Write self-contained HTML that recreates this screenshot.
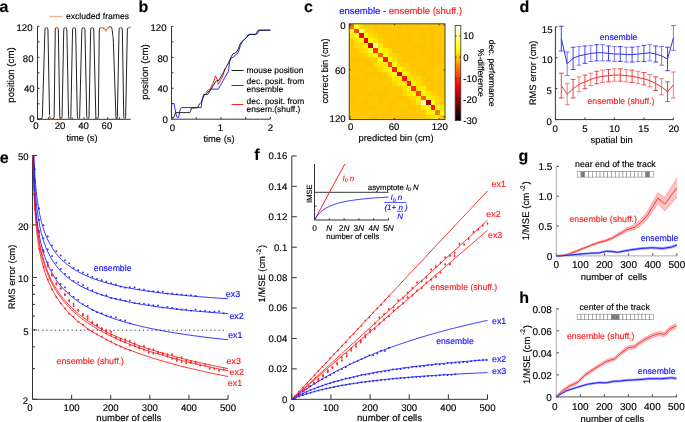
<!DOCTYPE html>
<html><head><meta charset="utf-8"><style>
html,body{margin:0;padding:0;background:#fff;width:685px;height:422px;overflow:hidden}
svg{display:block;will-change:transform}
text{font-family:"Liberation Sans",sans-serif;stroke:#000;stroke-width:0.15px;text-rendering:geometricPrecision}
[fill="#1010ff"],g[fill="#1010ff"] text{stroke:#1010ff}
[fill="#ff1a1a"]{stroke:#ff1a1a}
</style></head><body>
<svg width="685" height="422" viewBox="0 0 685 422">
<rect width="685" height="422" fill="#fff"/>
<g opacity="0.999">
<text x="-0.6" y="11.5" font-size="16" font-weight="bold">a</text>
<line x1="37.5" y1="119.3" x2="39.5" y2="119.3" stroke="#333" stroke-width="1" />
<line x1="37.5" y1="103.8" x2="39.5" y2="103.8" stroke="#333" stroke-width="1" />
<line x1="37.5" y1="88.3" x2="39.5" y2="88.3" stroke="#333" stroke-width="1" />
<line x1="37.5" y1="72.8" x2="39.5" y2="72.8" stroke="#333" stroke-width="1" />
<line x1="37.5" y1="57.3" x2="39.5" y2="57.3" stroke="#333" stroke-width="1" />
<line x1="37.5" y1="41.8" x2="39.5" y2="41.8" stroke="#333" stroke-width="1" />
<line x1="37.5" y1="26.3" x2="39.5" y2="26.3" stroke="#333" stroke-width="1" />
<text x="32.5" y="31.44" font-size="9.6" text-anchor="end" fill="#000" >120</text>
<text x="33.5" y="62.44" font-size="9.6" text-anchor="end" fill="#000" >80</text>
<text x="34.6" y="92.24" font-size="9.6" text-anchor="end" fill="#000" >40</text>
<text x="34.6" y="122.44" font-size="9.6" text-anchor="end" fill="#000" >0</text>
<line x1="48.45" y1="119.3" x2="48.45" y2="117.3" stroke="#333" stroke-width="1" />
<line x1="60.3" y1="119.3" x2="60.3" y2="117.3" stroke="#333" stroke-width="1" />
<line x1="72.15" y1="119.3" x2="72.15" y2="117.3" stroke="#333" stroke-width="1" />
<line x1="84" y1="119.3" x2="84" y2="117.3" stroke="#333" stroke-width="1" />
<line x1="95.85" y1="119.3" x2="95.85" y2="117.3" stroke="#333" stroke-width="1" />
<line x1="107.7" y1="119.3" x2="107.7" y2="117.3" stroke="#333" stroke-width="1" />
<line x1="119.55" y1="119.3" x2="119.55" y2="117.3" stroke="#333" stroke-width="1" />
<text x="35.9" y="129.44" font-size="9.6" text-anchor="middle" fill="#000" >0</text>
<text x="60" y="129.44" font-size="9.6" text-anchor="middle" fill="#000" >20</text>
<text x="83.6" y="129.44" font-size="9.6" text-anchor="middle" fill="#000" >40</text>
<text x="106.9" y="129.44" font-size="9.6" text-anchor="middle" fill="#000" >60</text>
<line x1="37.5" y1="26.3" x2="37.5" y2="119.3" stroke="#333" stroke-width="1" />
<line x1="37.5" y1="119.3" x2="130.6" y2="119.3" stroke="#333" stroke-width="1" />
<text transform="translate(10.3,75) rotate(-90)" x="0" y="3.39" font-size="9.7" text-anchor="middle" fill="#000" >position (cm)</text>
<text x="82" y="141.2" font-size="9.4" text-anchor="middle" fill="#000" >time (s)</text>
<line x1="49.2" y1="16.5" x2="62.2" y2="16.5" stroke="#ecb48c" stroke-width="1.3" />
<text x="66" y="19" font-size="8.6" text-anchor="start" fill="#000" >excluded frames</text>
<path d="M37.5,119 L39.9,119 Q42.3,119 42.37,116.6 L44.93,29.8 Q45,27.4 46.45,27.4 L46.45,27.4 Q47.9,27.4 47.94,29.8 L49.56,116.6 Q49.6,119 51.85,119 L51.85,119 Q54.1,119 54.13,116.6 L55.27,29.8 Q55.3,27.4 56.8,27.4 L56.8,27.4 Q58.3,27.4 58.34,29.8 L59.76,116.6 Q59.8,119 60.9,119 L60.9,119 Q62,119 62.05,116.6 L63.75,29.8 Q63.8,27.4 65.3,27.4 L65.3,27.4 Q66.8,27.4 66.85,29.8 L68.55,116.6 Q68.6,119 69.7,119 L69.7,119 Q70.8,119 70.85,116.6 L72.55,29.8 Q72.6,27.4 74.1,27.4 L74.1,27.4 Q75.6,27.4 75.65,29.8 L77.35,116.6 Q77.4,119 78.5,119 L78.5,119 Q79.6,119 79.66,116.6 L81.84,29.8 Q81.9,27.4 83.4,27.4 L83.4,27.4 Q84.9,27.4 84.95,29.8 L86.75,116.6 Q86.8,119 87.9,119 L87.9,119 Q89,119 89.04,116.6 L90.66,29.8 Q90.7,27.4 92.2,27.4 L92.2,27.4 Q93.7,27.4 93.76,29.8 L95.84,116.6 Q95.9,119 97.1,119 L97.1,119 Q98.3,119 98.33,116.6 L99.27,29.8 Q99.3,27.4 101.5,27.4 L101.5,27.4 Q103.7,27.4 104.7,29.4 L104.7,29.4 Q105.7,31.4 107.03,29.4 L107.57,28.6 Q108.9,26.6 110.3,26.6 L110.3,26.6 Q111.7,26.6 112.03,28.98 L112.27,30.62 Q112.6,33 112.84,35.39 L113.06,37.61 Q113.3,40 113.38,42.4 L115.92,116.6 Q116,119 116.65,119 L116.65,119 Q117.3,119 117.35,116.6 L119.05,29.8 Q119.1,27.4 120.7,27.4 L120.7,27.4 Q122.3,27.4 122.34,29.8 L123.76,116.6 Q123.8,119 124.7,119 L124.7,119 Q125.6,119 125.65,116.6 L127.35,29.8 Q127.4,27.4 129.2,27.4 L131,27.4" fill="none" stroke="#222" stroke-width="1"/>
<path d="M45.45,27.75 L47.45,27.75" stroke="#e8995a" stroke-width="1.2"/>
<path d="M55.8,27.75 L57.8,27.75" stroke="#e8995a" stroke-width="1.2"/>
<path d="M64.3,27.75 L66.3,27.75" stroke="#e8995a" stroke-width="1.2"/>
<path d="M73.1,27.75 L75.1,27.75" stroke="#e8995a" stroke-width="1.2"/>
<path d="M82.4,27.75 L84.4,27.75" stroke="#e8995a" stroke-width="1.2"/>
<path d="M91.2,27.75 L93.2,27.75" stroke="#e8995a" stroke-width="1.2"/>
<path d="M119.7,27.75 L121.7,27.75" stroke="#e8995a" stroke-width="1.2"/>
<line x1="60.2" y1="118.7" x2="61.6" y2="118.7" stroke="#e8995a" stroke-width="1.0" />
<line x1="69" y1="118.7" x2="70.4" y2="118.7" stroke="#e8995a" stroke-width="1.0" />
<line x1="77.8" y1="118.7" x2="79.2" y2="118.7" stroke="#e8995a" stroke-width="1.0" />
<line x1="87.2" y1="118.7" x2="88.6" y2="118.7" stroke="#e8995a" stroke-width="1.0" />
<line x1="96.3" y1="118.7" x2="97.7" y2="118.7" stroke="#e8995a" stroke-width="1.0" />
<line x1="124" y1="118.7" x2="125.4" y2="118.7" stroke="#e8995a" stroke-width="1.0" />
<polyline points="49.3,114.5 50.2,117.4 51.2,118.7 52.6,119" fill="none" stroke="#e8995a" stroke-width="1.1" stroke-linejoin="round" />
<path d="M99.8,27.7 L103.2,27.7 Q104.4,27.7 105.0,29.8 Q105.7,31.6 106.6,30.6 Q107.6,26.7 108.9,26.8 L110.4,26.8" fill="none" stroke="#e8995a" stroke-width="1.2"/>
<polyline points="127.8,27.7 131,27.7" fill="none" stroke="#e8995a" stroke-width="1.2" stroke-linejoin="round" />
<text x="138.6" y="11.5" font-size="16" font-weight="bold">b</text>
<line x1="171.5" y1="119.2" x2="173.5" y2="119.2" stroke="#333" stroke-width="1" />
<line x1="171.5" y1="103.73" x2="173.5" y2="103.73" stroke="#333" stroke-width="1" />
<line x1="171.5" y1="88.27" x2="173.5" y2="88.27" stroke="#333" stroke-width="1" />
<line x1="171.5" y1="72.8" x2="173.5" y2="72.8" stroke="#333" stroke-width="1" />
<line x1="171.5" y1="57.33" x2="173.5" y2="57.33" stroke="#333" stroke-width="1" />
<line x1="171.5" y1="41.87" x2="173.5" y2="41.87" stroke="#333" stroke-width="1" />
<line x1="171.5" y1="26.4" x2="173.5" y2="26.4" stroke="#333" stroke-width="1" />
<text x="166.5" y="30.94" font-size="9.6" text-anchor="end" fill="#000" >120</text>
<text x="168.1" y="62.44" font-size="9.6" text-anchor="end" fill="#000" >80</text>
<text x="168.1" y="92.24" font-size="9.6" text-anchor="end" fill="#000" >40</text>
<text x="167.9" y="122.74" font-size="9.6" text-anchor="end" fill="#000" >0</text>
<line x1="171.5" y1="119.2" x2="171.5" y2="117.2" stroke="#333" stroke-width="1" />
<line x1="196.22" y1="119.2" x2="196.22" y2="117.2" stroke="#333" stroke-width="1" />
<line x1="220.95" y1="119.2" x2="220.95" y2="117.2" stroke="#333" stroke-width="1" />
<line x1="245.68" y1="119.2" x2="245.68" y2="117.2" stroke="#333" stroke-width="1" />
<line x1="270.4" y1="119.2" x2="270.4" y2="117.2" stroke="#333" stroke-width="1" />
<text x="172.3" y="131.44" font-size="9.6" text-anchor="middle" fill="#000" >0</text>
<text x="220.4" y="131.44" font-size="9.6" text-anchor="middle" fill="#000" >1</text>
<text x="270.4" y="131.44" font-size="9.6" text-anchor="middle" fill="#000" >2</text>
<line x1="171.5" y1="26.4" x2="171.5" y2="119.2" stroke="#333" stroke-width="1" />
<line x1="171.5" y1="119.2" x2="270.4" y2="119.2" stroke="#333" stroke-width="1" />
<text transform="translate(144.5,72) rotate(-90)" x="0" y="3.39" font-size="9.7" text-anchor="middle" fill="#000" >position (cm)</text>
<text x="219" y="142" font-size="9.4" text-anchor="middle" fill="#000" >time (s)</text>
<polyline points="171.6,103.4 174,103.4 176.2,115 177.3,117.6 178.6,117.4 180,110 181.4,107.6 201.1,107.6 202.4,98.5 203.6,94.4 205.3,94.4 211.2,89.1 218.3,89.1 228.4,71.3 229.6,61.8 231.4,57.7 233.7,57.1 235.5,54.7 237.9,53 240.5,45.5 242.4,41.4 244.6,38.9 246.4,37.6 248.2,34.4 255.8,34.4 257.3,33.8 259.6,30.2 270.4,30.2" fill="none" stroke="#2828ff" stroke-width="1.0" stroke-linejoin="round" />
<polyline points="205.9,92.6 208.3,89.6 210.1,89.1 213.6,82 215.4,75.8 217.2,79.6 218.3,84.3 220.7,79.6 223.1,75.4 224.9,68.3" fill="none" stroke="#ff2020" stroke-width="1.0" stroke-linejoin="round" />
<polyline points="172,117.7 173.8,117.5 175.6,112.6 189.9,112.6 191.6,108 197.4,107.8 199.6,104 201,102.5 204.7,94.4 207.7,94.4 211.2,89.1 215.4,82 217.2,80.2 218.3,80.8 220.7,77.2 223.7,71.9 228.4,63 231.4,56.5 233.1,53.6 235.5,53 237.9,50 239.7,44.9 241.5,42 243.5,40.6 247.1,37 249.6,34.4 255.6,34.4 258,30.2 270.4,30.2" fill="none" stroke="#111" stroke-width="0.9" stroke-linejoin="round" />
<line x1="231.5" y1="70.5" x2="243.5" y2="70.5" stroke="#222" stroke-width="1.0" />
<line x1="231.5" y1="85.5" x2="243.5" y2="85.5" stroke="#2828ff" stroke-width="1.0" />
<line x1="231.5" y1="104.5" x2="243.5" y2="104.5" stroke="#ff2020" stroke-width="1.0" />
<text x="246.6" y="72.8" font-size="8.45" text-anchor="start" fill="#000" >mouse position</text>
<text x="246.6" y="84.3" font-size="8.45" text-anchor="start" fill="#000" >dec. posit. from</text>
<text x="246.6" y="92.4" font-size="8.45" text-anchor="start" fill="#000" >ensemble</text>
<text x="246.6" y="103.5" font-size="8.45" text-anchor="start" fill="#000" >dec. posit. from</text>
<text x="246.6" y="111.8" font-size="8.45" text-anchor="start" fill="#000" >ensem.(shuff.)</text>
<text x="304.0" y="11.6" font-size="16" font-weight="bold">c</text>
<g shape-rendering="crispEdges">
<rect x="349.2" y="23.8" width="4.84" height="4.84" fill="#ff6b00"/>
<rect x="353.99" y="23.8" width="4.84" height="4.84" fill="#ffff1c"/>
<rect x="358.78" y="23.8" width="4.84" height="4.84" fill="#ffde00"/>
<rect x="363.57" y="23.8" width="4.84" height="4.84" fill="#ffcb00"/>
<rect x="368.36" y="23.8" width="4.84" height="4.84" fill="#ffc800"/>
<rect x="373.15" y="23.8" width="4.84" height="4.84" fill="#ffc300"/>
<rect x="377.94" y="23.8" width="4.84" height="4.84" fill="#ffc700"/>
<rect x="382.73" y="23.8" width="4.84" height="4.84" fill="#ffc600"/>
<rect x="387.52" y="23.8" width="4.84" height="4.84" fill="#ffc300"/>
<rect x="392.31" y="23.8" width="4.84" height="4.84" fill="#ffc700"/>
<rect x="397.1" y="23.8" width="4.84" height="4.84" fill="#ffc300"/>
<rect x="401.89" y="23.8" width="4.84" height="4.84" fill="#ffc600"/>
<rect x="406.68" y="23.8" width="4.84" height="4.84" fill="#ffc300"/>
<rect x="411.47" y="23.8" width="4.84" height="4.84" fill="#ffc300"/>
<rect x="416.26" y="23.8" width="4.84" height="4.84" fill="#ffc600"/>
<rect x="421.05" y="23.8" width="4.84" height="4.84" fill="#ffc900"/>
<rect x="425.84" y="23.8" width="4.84" height="4.84" fill="#ffc400"/>
<rect x="430.63" y="23.8" width="4.84" height="4.84" fill="#ffc400"/>
<rect x="435.42" y="23.8" width="4.84" height="4.84" fill="#ffc800"/>
<rect x="440.21" y="23.8" width="4.84" height="4.84" fill="#ffca00"/>
<rect x="349.2" y="28.59" width="4.84" height="4.84" fill="#ffff09"/>
<rect x="353.99" y="28.59" width="4.84" height="4.84" fill="#ff3e00"/>
<rect x="358.78" y="28.59" width="4.84" height="4.84" fill="#ffff77"/>
<rect x="363.57" y="28.59" width="4.84" height="4.84" fill="#ffe000"/>
<rect x="368.36" y="28.59" width="4.84" height="4.84" fill="#ffd800"/>
<rect x="373.15" y="28.59" width="4.84" height="4.84" fill="#ffc300"/>
<rect x="377.94" y="28.59" width="4.84" height="4.84" fill="#ffc900"/>
<rect x="382.73" y="28.59" width="4.84" height="4.84" fill="#ffc500"/>
<rect x="387.52" y="28.59" width="4.84" height="4.84" fill="#ffc400"/>
<rect x="392.31" y="28.59" width="4.84" height="4.84" fill="#ffc400"/>
<rect x="397.1" y="28.59" width="4.84" height="4.84" fill="#ffc500"/>
<rect x="401.89" y="28.59" width="4.84" height="4.84" fill="#ffc900"/>
<rect x="406.68" y="28.59" width="4.84" height="4.84" fill="#ffc400"/>
<rect x="411.47" y="28.59" width="4.84" height="4.84" fill="#ffc700"/>
<rect x="416.26" y="28.59" width="4.84" height="4.84" fill="#ffc800"/>
<rect x="421.05" y="28.59" width="4.84" height="4.84" fill="#ffc600"/>
<rect x="425.84" y="28.59" width="4.84" height="4.84" fill="#ffc700"/>
<rect x="430.63" y="28.59" width="4.84" height="4.84" fill="#ffc300"/>
<rect x="435.42" y="28.59" width="4.84" height="4.84" fill="#ffc300"/>
<rect x="440.21" y="28.59" width="4.84" height="4.84" fill="#ffc400"/>
<rect x="349.2" y="33.38" width="4.84" height="4.84" fill="#ffe700"/>
<rect x="353.99" y="33.38" width="4.84" height="4.84" fill="#ffff1c"/>
<rect x="358.78" y="33.38" width="4.84" height="4.84" fill="#ff0100"/>
<rect x="363.57" y="33.38" width="4.84" height="4.84" fill="#ffff02"/>
<rect x="368.36" y="33.38" width="4.84" height="4.84" fill="#ffdd00"/>
<rect x="373.15" y="33.38" width="4.84" height="4.84" fill="#ffd200"/>
<rect x="377.94" y="33.38" width="4.84" height="4.84" fill="#ffc600"/>
<rect x="382.73" y="33.38" width="4.84" height="4.84" fill="#ffc500"/>
<rect x="387.52" y="33.38" width="4.84" height="4.84" fill="#ffc900"/>
<rect x="392.31" y="33.38" width="4.84" height="4.84" fill="#ffc800"/>
<rect x="397.1" y="33.38" width="4.84" height="4.84" fill="#ffc500"/>
<rect x="401.89" y="33.38" width="4.84" height="4.84" fill="#ffc700"/>
<rect x="406.68" y="33.38" width="4.84" height="4.84" fill="#ffc700"/>
<rect x="411.47" y="33.38" width="4.84" height="4.84" fill="#ffc900"/>
<rect x="416.26" y="33.38" width="4.84" height="4.84" fill="#ffc800"/>
<rect x="421.05" y="33.38" width="4.84" height="4.84" fill="#ffc500"/>
<rect x="425.84" y="33.38" width="4.84" height="4.84" fill="#ffca00"/>
<rect x="430.63" y="33.38" width="4.84" height="4.84" fill="#ffc400"/>
<rect x="435.42" y="33.38" width="4.84" height="4.84" fill="#ffc600"/>
<rect x="440.21" y="33.38" width="4.84" height="4.84" fill="#ffc900"/>
<rect x="349.2" y="38.17" width="4.84" height="4.84" fill="#ffcb00"/>
<rect x="353.99" y="38.17" width="4.84" height="4.84" fill="#ffe200"/>
<rect x="358.78" y="38.17" width="4.84" height="4.84" fill="#fff400"/>
<rect x="363.57" y="38.17" width="4.84" height="4.84" fill="#e20000"/>
<rect x="368.36" y="38.17" width="4.84" height="4.84" fill="#fff800"/>
<rect x="373.15" y="38.17" width="4.84" height="4.84" fill="#ffea00"/>
<rect x="377.94" y="38.17" width="4.84" height="4.84" fill="#ffd200"/>
<rect x="382.73" y="38.17" width="4.84" height="4.84" fill="#ffc900"/>
<rect x="387.52" y="38.17" width="4.84" height="4.84" fill="#ffc500"/>
<rect x="392.31" y="38.17" width="4.84" height="4.84" fill="#ffc800"/>
<rect x="397.1" y="38.17" width="4.84" height="4.84" fill="#ffc700"/>
<rect x="401.89" y="38.17" width="4.84" height="4.84" fill="#ffc700"/>
<rect x="406.68" y="38.17" width="4.84" height="4.84" fill="#ffc600"/>
<rect x="411.47" y="38.17" width="4.84" height="4.84" fill="#ffc900"/>
<rect x="416.26" y="38.17" width="4.84" height="4.84" fill="#ffca00"/>
<rect x="421.05" y="38.17" width="4.84" height="4.84" fill="#ffc600"/>
<rect x="425.84" y="38.17" width="4.84" height="4.84" fill="#ffc800"/>
<rect x="430.63" y="38.17" width="4.84" height="4.84" fill="#ffc300"/>
<rect x="435.42" y="38.17" width="4.84" height="4.84" fill="#ffc800"/>
<rect x="440.21" y="38.17" width="4.84" height="4.84" fill="#ffc800"/>
<rect x="349.2" y="42.96" width="4.84" height="4.84" fill="#ffca00"/>
<rect x="353.99" y="42.96" width="4.84" height="4.84" fill="#ffd500"/>
<rect x="358.78" y="42.96" width="4.84" height="4.84" fill="#ffdd00"/>
<rect x="363.57" y="42.96" width="4.84" height="4.84" fill="#fff000"/>
<rect x="368.36" y="42.96" width="4.84" height="4.84" fill="#c40000"/>
<rect x="373.15" y="42.96" width="4.84" height="4.84" fill="#ffff8d"/>
<rect x="377.94" y="42.96" width="4.84" height="4.84" fill="#ffe700"/>
<rect x="382.73" y="42.96" width="4.84" height="4.84" fill="#ffc900"/>
<rect x="387.52" y="42.96" width="4.84" height="4.84" fill="#ffc600"/>
<rect x="392.31" y="42.96" width="4.84" height="4.84" fill="#ffc400"/>
<rect x="397.1" y="42.96" width="4.84" height="4.84" fill="#ffc400"/>
<rect x="401.89" y="42.96" width="4.84" height="4.84" fill="#ffc300"/>
<rect x="406.68" y="42.96" width="4.84" height="4.84" fill="#ffc900"/>
<rect x="411.47" y="42.96" width="4.84" height="4.84" fill="#ffc400"/>
<rect x="416.26" y="42.96" width="4.84" height="4.84" fill="#ffc500"/>
<rect x="421.05" y="42.96" width="4.84" height="4.84" fill="#ffc600"/>
<rect x="425.84" y="42.96" width="4.84" height="4.84" fill="#ffc900"/>
<rect x="430.63" y="42.96" width="4.84" height="4.84" fill="#ffc300"/>
<rect x="435.42" y="42.96" width="4.84" height="4.84" fill="#ffc600"/>
<rect x="440.21" y="42.96" width="4.84" height="4.84" fill="#ffc700"/>
<rect x="349.2" y="47.75" width="4.84" height="4.84" fill="#ffc900"/>
<rect x="353.99" y="47.75" width="4.84" height="4.84" fill="#ffc900"/>
<rect x="358.78" y="47.75" width="4.84" height="4.84" fill="#ffd600"/>
<rect x="363.57" y="47.75" width="4.84" height="4.84" fill="#ffdd00"/>
<rect x="368.36" y="47.75" width="4.84" height="4.84" fill="#ffff18"/>
<rect x="373.15" y="47.75" width="4.84" height="4.84" fill="#ff2f00"/>
<rect x="377.94" y="47.75" width="4.84" height="4.84" fill="#fffe00"/>
<rect x="382.73" y="47.75" width="4.84" height="4.84" fill="#ffed00"/>
<rect x="387.52" y="47.75" width="4.84" height="4.84" fill="#ffd700"/>
<rect x="392.31" y="47.75" width="4.84" height="4.84" fill="#ffc400"/>
<rect x="397.1" y="47.75" width="4.84" height="4.84" fill="#ffc400"/>
<rect x="401.89" y="47.75" width="4.84" height="4.84" fill="#ffc500"/>
<rect x="406.68" y="47.75" width="4.84" height="4.84" fill="#ffc500"/>
<rect x="411.47" y="47.75" width="4.84" height="4.84" fill="#ffc600"/>
<rect x="416.26" y="47.75" width="4.84" height="4.84" fill="#ffc700"/>
<rect x="421.05" y="47.75" width="4.84" height="4.84" fill="#ffc500"/>
<rect x="425.84" y="47.75" width="4.84" height="4.84" fill="#ffc300"/>
<rect x="430.63" y="47.75" width="4.84" height="4.84" fill="#ffc600"/>
<rect x="435.42" y="47.75" width="4.84" height="4.84" fill="#ffc600"/>
<rect x="440.21" y="47.75" width="4.84" height="4.84" fill="#ffc700"/>
<rect x="349.2" y="52.54" width="4.84" height="4.84" fill="#ffca00"/>
<rect x="353.99" y="52.54" width="4.84" height="4.84" fill="#ffc800"/>
<rect x="358.78" y="52.54" width="4.84" height="4.84" fill="#ffc700"/>
<rect x="363.57" y="52.54" width="4.84" height="4.84" fill="#ffd200"/>
<rect x="368.36" y="52.54" width="4.84" height="4.84" fill="#ffe700"/>
<rect x="373.15" y="52.54" width="4.84" height="4.84" fill="#fff500"/>
<rect x="377.94" y="52.54" width="4.84" height="4.84" fill="#ff5c00"/>
<rect x="382.73" y="52.54" width="4.84" height="4.84" fill="#ffff01"/>
<rect x="387.52" y="52.54" width="4.84" height="4.84" fill="#ffea00"/>
<rect x="392.31" y="52.54" width="4.84" height="4.84" fill="#ffd600"/>
<rect x="397.1" y="52.54" width="4.84" height="4.84" fill="#ffc900"/>
<rect x="401.89" y="52.54" width="4.84" height="4.84" fill="#ffc600"/>
<rect x="406.68" y="52.54" width="4.84" height="4.84" fill="#ffc600"/>
<rect x="411.47" y="52.54" width="4.84" height="4.84" fill="#ffc400"/>
<rect x="416.26" y="52.54" width="4.84" height="4.84" fill="#ffc800"/>
<rect x="421.05" y="52.54" width="4.84" height="4.84" fill="#ffc300"/>
<rect x="425.84" y="52.54" width="4.84" height="4.84" fill="#ffc300"/>
<rect x="430.63" y="52.54" width="4.84" height="4.84" fill="#ffc400"/>
<rect x="435.42" y="52.54" width="4.84" height="4.84" fill="#ffc400"/>
<rect x="440.21" y="52.54" width="4.84" height="4.84" fill="#ffc500"/>
<rect x="349.2" y="57.33" width="4.84" height="4.84" fill="#ffc300"/>
<rect x="353.99" y="57.33" width="4.84" height="4.84" fill="#ffc300"/>
<rect x="358.78" y="57.33" width="4.84" height="4.84" fill="#ffc400"/>
<rect x="363.57" y="57.33" width="4.84" height="4.84" fill="#ffc400"/>
<rect x="368.36" y="57.33" width="4.84" height="4.84" fill="#ffce00"/>
<rect x="373.15" y="57.33" width="4.84" height="4.84" fill="#ffd600"/>
<rect x="377.94" y="57.33" width="4.84" height="4.84" fill="#fffe00"/>
<rect x="382.73" y="57.33" width="4.84" height="4.84" fill="#ff1100"/>
<rect x="387.52" y="57.33" width="4.84" height="4.84" fill="#fff700"/>
<rect x="392.31" y="57.33" width="4.84" height="4.84" fill="#ffd900"/>
<rect x="397.1" y="57.33" width="4.84" height="4.84" fill="#ffcd00"/>
<rect x="401.89" y="57.33" width="4.84" height="4.84" fill="#ffc500"/>
<rect x="406.68" y="57.33" width="4.84" height="4.84" fill="#ffc600"/>
<rect x="411.47" y="57.33" width="4.84" height="4.84" fill="#ffc400"/>
<rect x="416.26" y="57.33" width="4.84" height="4.84" fill="#ffc900"/>
<rect x="421.05" y="57.33" width="4.84" height="4.84" fill="#ffca00"/>
<rect x="425.84" y="57.33" width="4.84" height="4.84" fill="#ffc600"/>
<rect x="430.63" y="57.33" width="4.84" height="4.84" fill="#ffc600"/>
<rect x="435.42" y="57.33" width="4.84" height="4.84" fill="#ffc300"/>
<rect x="440.21" y="57.33" width="4.84" height="4.84" fill="#ffc400"/>
<rect x="349.2" y="62.12" width="4.84" height="4.84" fill="#ffc500"/>
<rect x="353.99" y="62.12" width="4.84" height="4.84" fill="#ffc500"/>
<rect x="358.78" y="62.12" width="4.84" height="4.84" fill="#ffc900"/>
<rect x="363.57" y="62.12" width="4.84" height="4.84" fill="#ffc400"/>
<rect x="368.36" y="62.12" width="4.84" height="4.84" fill="#ffc300"/>
<rect x="373.15" y="62.12" width="4.84" height="4.84" fill="#ffd700"/>
<rect x="377.94" y="62.12" width="4.84" height="4.84" fill="#ffe300"/>
<rect x="382.73" y="62.12" width="4.84" height="4.84" fill="#ffe800"/>
<rect x="387.52" y="62.12" width="4.84" height="4.84" fill="#ff3e00"/>
<rect x="392.31" y="62.12" width="4.84" height="4.84" fill="#ffff07"/>
<rect x="397.1" y="62.12" width="4.84" height="4.84" fill="#ffd600"/>
<rect x="401.89" y="62.12" width="4.84" height="4.84" fill="#ffd100"/>
<rect x="406.68" y="62.12" width="4.84" height="4.84" fill="#ffca00"/>
<rect x="411.47" y="62.12" width="4.84" height="4.84" fill="#ffc900"/>
<rect x="416.26" y="62.12" width="4.84" height="4.84" fill="#ffc800"/>
<rect x="421.05" y="62.12" width="4.84" height="4.84" fill="#ffc500"/>
<rect x="425.84" y="62.12" width="4.84" height="4.84" fill="#ffc600"/>
<rect x="430.63" y="62.12" width="4.84" height="4.84" fill="#ffc400"/>
<rect x="435.42" y="62.12" width="4.84" height="4.84" fill="#ffc900"/>
<rect x="440.21" y="62.12" width="4.84" height="4.84" fill="#ffc700"/>
<rect x="349.2" y="66.91" width="4.84" height="4.84" fill="#ffc900"/>
<rect x="353.99" y="66.91" width="4.84" height="4.84" fill="#ffc500"/>
<rect x="358.78" y="66.91" width="4.84" height="4.84" fill="#ffc400"/>
<rect x="363.57" y="66.91" width="4.84" height="4.84" fill="#ffc900"/>
<rect x="368.36" y="66.91" width="4.84" height="4.84" fill="#ffca00"/>
<rect x="373.15" y="66.91" width="4.84" height="4.84" fill="#ffc900"/>
<rect x="377.94" y="66.91" width="4.84" height="4.84" fill="#ffd500"/>
<rect x="382.73" y="66.91" width="4.84" height="4.84" fill="#ffeb00"/>
<rect x="387.52" y="66.91" width="4.84" height="4.84" fill="#ffff10"/>
<rect x="392.31" y="66.91" width="4.84" height="4.84" fill="#ff2000"/>
<rect x="397.1" y="66.91" width="4.84" height="4.84" fill="#fffa00"/>
<rect x="401.89" y="66.91" width="4.84" height="4.84" fill="#ffe300"/>
<rect x="406.68" y="66.91" width="4.84" height="4.84" fill="#ffce00"/>
<rect x="411.47" y="66.91" width="4.84" height="4.84" fill="#ffc300"/>
<rect x="416.26" y="66.91" width="4.84" height="4.84" fill="#ffc300"/>
<rect x="421.05" y="66.91" width="4.84" height="4.84" fill="#ffc500"/>
<rect x="425.84" y="66.91" width="4.84" height="4.84" fill="#ffc500"/>
<rect x="430.63" y="66.91" width="4.84" height="4.84" fill="#ffc800"/>
<rect x="435.42" y="66.91" width="4.84" height="4.84" fill="#ffca00"/>
<rect x="440.21" y="66.91" width="4.84" height="4.84" fill="#ffc600"/>
<rect x="349.2" y="71.7" width="4.84" height="4.84" fill="#ffca00"/>
<rect x="353.99" y="71.7" width="4.84" height="4.84" fill="#ffca00"/>
<rect x="358.78" y="71.7" width="4.84" height="4.84" fill="#ffca00"/>
<rect x="363.57" y="71.7" width="4.84" height="4.84" fill="#ffc600"/>
<rect x="368.36" y="71.7" width="4.84" height="4.84" fill="#ffc400"/>
<rect x="373.15" y="71.7" width="4.84" height="4.84" fill="#ffc500"/>
<rect x="377.94" y="71.7" width="4.84" height="4.84" fill="#ffc400"/>
<rect x="382.73" y="71.7" width="4.84" height="4.84" fill="#ffcc00"/>
<rect x="387.52" y="71.7" width="4.84" height="4.84" fill="#ffe600"/>
<rect x="392.31" y="71.7" width="4.84" height="4.84" fill="#ffff17"/>
<rect x="397.1" y="71.7" width="4.84" height="4.84" fill="#e20000"/>
<rect x="401.89" y="71.7" width="4.84" height="4.84" fill="#fffd00"/>
<rect x="406.68" y="71.7" width="4.84" height="4.84" fill="#ffe200"/>
<rect x="411.47" y="71.7" width="4.84" height="4.84" fill="#ffd300"/>
<rect x="416.26" y="71.7" width="4.84" height="4.84" fill="#ffc900"/>
<rect x="421.05" y="71.7" width="4.84" height="4.84" fill="#ffc300"/>
<rect x="425.84" y="71.7" width="4.84" height="4.84" fill="#ffc800"/>
<rect x="430.63" y="71.7" width="4.84" height="4.84" fill="#ffca00"/>
<rect x="435.42" y="71.7" width="4.84" height="4.84" fill="#ffc900"/>
<rect x="440.21" y="71.7" width="4.84" height="4.84" fill="#ffc800"/>
<rect x="349.2" y="76.49" width="4.84" height="4.84" fill="#ffc600"/>
<rect x="353.99" y="76.49" width="4.84" height="4.84" fill="#ffc400"/>
<rect x="358.78" y="76.49" width="4.84" height="4.84" fill="#ffc900"/>
<rect x="363.57" y="76.49" width="4.84" height="4.84" fill="#ffc500"/>
<rect x="368.36" y="76.49" width="4.84" height="4.84" fill="#ffc900"/>
<rect x="373.15" y="76.49" width="4.84" height="4.84" fill="#ffca00"/>
<rect x="377.94" y="76.49" width="4.84" height="4.84" fill="#ffc600"/>
<rect x="382.73" y="76.49" width="4.84" height="4.84" fill="#ffc600"/>
<rect x="387.52" y="76.49" width="4.84" height="4.84" fill="#ffd700"/>
<rect x="392.31" y="76.49" width="4.84" height="4.84" fill="#ffe900"/>
<rect x="397.1" y="76.49" width="4.84" height="4.84" fill="#ffe900"/>
<rect x="401.89" y="76.49" width="4.84" height="4.84" fill="#ff1100"/>
<rect x="406.68" y="76.49" width="4.84" height="4.84" fill="#ffe800"/>
<rect x="411.47" y="76.49" width="4.84" height="4.84" fill="#ffd900"/>
<rect x="416.26" y="76.49" width="4.84" height="4.84" fill="#ffd700"/>
<rect x="421.05" y="76.49" width="4.84" height="4.84" fill="#ffc900"/>
<rect x="425.84" y="76.49" width="4.84" height="4.84" fill="#ffc400"/>
<rect x="430.63" y="76.49" width="4.84" height="4.84" fill="#ffc900"/>
<rect x="435.42" y="76.49" width="4.84" height="4.84" fill="#ffca00"/>
<rect x="440.21" y="76.49" width="4.84" height="4.84" fill="#ffc800"/>
<rect x="349.2" y="81.28" width="4.84" height="4.84" fill="#ffc500"/>
<rect x="353.99" y="81.28" width="4.84" height="4.84" fill="#ffc700"/>
<rect x="358.78" y="81.28" width="4.84" height="4.84" fill="#ffc400"/>
<rect x="363.57" y="81.28" width="4.84" height="4.84" fill="#ffc300"/>
<rect x="368.36" y="81.28" width="4.84" height="4.84" fill="#ffca00"/>
<rect x="373.15" y="81.28" width="4.84" height="4.84" fill="#ffc800"/>
<rect x="377.94" y="81.28" width="4.84" height="4.84" fill="#ffc700"/>
<rect x="382.73" y="81.28" width="4.84" height="4.84" fill="#ffca00"/>
<rect x="387.52" y="81.28" width="4.84" height="4.84" fill="#ffc600"/>
<rect x="392.31" y="81.28" width="4.84" height="4.84" fill="#ffd600"/>
<rect x="397.1" y="81.28" width="4.84" height="4.84" fill="#ffeb00"/>
<rect x="401.89" y="81.28" width="4.84" height="4.84" fill="#ffea00"/>
<rect x="406.68" y="81.28" width="4.84" height="4.84" fill="#ff1100"/>
<rect x="411.47" y="81.28" width="4.84" height="4.84" fill="#fffb00"/>
<rect x="416.26" y="81.28" width="4.84" height="4.84" fill="#ffdd00"/>
<rect x="421.05" y="81.28" width="4.84" height="4.84" fill="#ffcc00"/>
<rect x="425.84" y="81.28" width="4.84" height="4.84" fill="#ffc700"/>
<rect x="430.63" y="81.28" width="4.84" height="4.84" fill="#ffc500"/>
<rect x="435.42" y="81.28" width="4.84" height="4.84" fill="#ffc600"/>
<rect x="440.21" y="81.28" width="4.84" height="4.84" fill="#ffc400"/>
<rect x="349.2" y="86.07" width="4.84" height="4.84" fill="#ffca00"/>
<rect x="353.99" y="86.07" width="4.84" height="4.84" fill="#ffc500"/>
<rect x="358.78" y="86.07" width="4.84" height="4.84" fill="#ffc600"/>
<rect x="363.57" y="86.07" width="4.84" height="4.84" fill="#ffc700"/>
<rect x="368.36" y="86.07" width="4.84" height="4.84" fill="#ffca00"/>
<rect x="373.15" y="86.07" width="4.84" height="4.84" fill="#ffc600"/>
<rect x="377.94" y="86.07" width="4.84" height="4.84" fill="#ffca00"/>
<rect x="382.73" y="86.07" width="4.84" height="4.84" fill="#ffc700"/>
<rect x="387.52" y="86.07" width="4.84" height="4.84" fill="#ffc700"/>
<rect x="392.31" y="86.07" width="4.84" height="4.84" fill="#ffc700"/>
<rect x="397.1" y="86.07" width="4.84" height="4.84" fill="#ffc900"/>
<rect x="401.89" y="86.07" width="4.84" height="4.84" fill="#ffe100"/>
<rect x="406.68" y="86.07" width="4.84" height="4.84" fill="#fff900"/>
<rect x="411.47" y="86.07" width="4.84" height="4.84" fill="#ff2f00"/>
<rect x="416.26" y="86.07" width="4.84" height="4.84" fill="#ffe400"/>
<rect x="421.05" y="86.07" width="4.84" height="4.84" fill="#ffeb00"/>
<rect x="425.84" y="86.07" width="4.84" height="4.84" fill="#ffcb00"/>
<rect x="430.63" y="86.07" width="4.84" height="4.84" fill="#ffc600"/>
<rect x="435.42" y="86.07" width="4.84" height="4.84" fill="#ffc800"/>
<rect x="440.21" y="86.07" width="4.84" height="4.84" fill="#ffc700"/>
<rect x="349.2" y="90.86" width="4.84" height="4.84" fill="#ffc500"/>
<rect x="353.99" y="90.86" width="4.84" height="4.84" fill="#ffc700"/>
<rect x="358.78" y="90.86" width="4.84" height="4.84" fill="#ffc700"/>
<rect x="363.57" y="90.86" width="4.84" height="4.84" fill="#ffc900"/>
<rect x="368.36" y="90.86" width="4.84" height="4.84" fill="#ffc400"/>
<rect x="373.15" y="90.86" width="4.84" height="4.84" fill="#ffc700"/>
<rect x="377.94" y="90.86" width="4.84" height="4.84" fill="#ffc500"/>
<rect x="382.73" y="90.86" width="4.84" height="4.84" fill="#ffc500"/>
<rect x="387.52" y="90.86" width="4.84" height="4.84" fill="#ffc900"/>
<rect x="392.31" y="90.86" width="4.84" height="4.84" fill="#ffc700"/>
<rect x="397.1" y="90.86" width="4.84" height="4.84" fill="#ffc700"/>
<rect x="401.89" y="90.86" width="4.84" height="4.84" fill="#ffd400"/>
<rect x="406.68" y="90.86" width="4.84" height="4.84" fill="#ffee00"/>
<rect x="411.47" y="90.86" width="4.84" height="4.84" fill="#fff100"/>
<rect x="416.26" y="90.86" width="4.84" height="4.84" fill="#ff3e00"/>
<rect x="421.05" y="90.86" width="4.84" height="4.84" fill="#fff700"/>
<rect x="425.84" y="90.86" width="4.84" height="4.84" fill="#ffe300"/>
<rect x="430.63" y="90.86" width="4.84" height="4.84" fill="#ffd100"/>
<rect x="435.42" y="90.86" width="4.84" height="4.84" fill="#ffc800"/>
<rect x="440.21" y="90.86" width="4.84" height="4.84" fill="#ffc600"/>
<rect x="349.2" y="95.65" width="4.84" height="4.84" fill="#ffc700"/>
<rect x="353.99" y="95.65" width="4.84" height="4.84" fill="#ffc600"/>
<rect x="358.78" y="95.65" width="4.84" height="4.84" fill="#ffca00"/>
<rect x="363.57" y="95.65" width="4.84" height="4.84" fill="#ffc800"/>
<rect x="368.36" y="95.65" width="4.84" height="4.84" fill="#ffc900"/>
<rect x="373.15" y="95.65" width="4.84" height="4.84" fill="#ffca00"/>
<rect x="377.94" y="95.65" width="4.84" height="4.84" fill="#ffc500"/>
<rect x="382.73" y="95.65" width="4.84" height="4.84" fill="#ffc700"/>
<rect x="387.52" y="95.65" width="4.84" height="4.84" fill="#ffca00"/>
<rect x="392.31" y="95.65" width="4.84" height="4.84" fill="#ffc900"/>
<rect x="397.1" y="95.65" width="4.84" height="4.84" fill="#ffc400"/>
<rect x="401.89" y="95.65" width="4.84" height="4.84" fill="#ffc400"/>
<rect x="406.68" y="95.65" width="4.84" height="4.84" fill="#ffd000"/>
<rect x="411.47" y="95.65" width="4.84" height="4.84" fill="#ffd700"/>
<rect x="416.26" y="95.65" width="4.84" height="4.84" fill="#ffeb00"/>
<rect x="421.05" y="95.65" width="4.84" height="4.84" fill="#ff5c00"/>
<rect x="425.84" y="95.65" width="4.84" height="4.84" fill="#fff500"/>
<rect x="430.63" y="95.65" width="4.84" height="4.84" fill="#ffe700"/>
<rect x="435.42" y="95.65" width="4.84" height="4.84" fill="#ffd500"/>
<rect x="440.21" y="95.65" width="4.84" height="4.84" fill="#ffca00"/>
<rect x="349.2" y="100.44" width="4.84" height="4.84" fill="#ffc400"/>
<rect x="353.99" y="100.44" width="4.84" height="4.84" fill="#ffc800"/>
<rect x="358.78" y="100.44" width="4.84" height="4.84" fill="#ffc800"/>
<rect x="363.57" y="100.44" width="4.84" height="4.84" fill="#ffc400"/>
<rect x="368.36" y="100.44" width="4.84" height="4.84" fill="#ffc900"/>
<rect x="373.15" y="100.44" width="4.84" height="4.84" fill="#ffca00"/>
<rect x="377.94" y="100.44" width="4.84" height="4.84" fill="#ffc400"/>
<rect x="382.73" y="100.44" width="4.84" height="4.84" fill="#ffca00"/>
<rect x="387.52" y="100.44" width="4.84" height="4.84" fill="#ffc600"/>
<rect x="392.31" y="100.44" width="4.84" height="4.84" fill="#ffc600"/>
<rect x="397.1" y="100.44" width="4.84" height="4.84" fill="#ffca00"/>
<rect x="401.89" y="100.44" width="4.84" height="4.84" fill="#ffc900"/>
<rect x="406.68" y="100.44" width="4.84" height="4.84" fill="#ffc400"/>
<rect x="411.47" y="100.44" width="4.84" height="4.84" fill="#ffcf00"/>
<rect x="416.26" y="100.44" width="4.84" height="4.84" fill="#ffe300"/>
<rect x="421.05" y="100.44" width="4.84" height="4.84" fill="#ffffa4"/>
<rect x="425.84" y="100.44" width="4.84" height="4.84" fill="#a60000"/>
<rect x="430.63" y="100.44" width="4.84" height="4.84" fill="#ffff15"/>
<rect x="435.42" y="100.44" width="4.84" height="4.84" fill="#ffda00"/>
<rect x="440.21" y="100.44" width="4.84" height="4.84" fill="#ffce00"/>
<rect x="349.2" y="105.23" width="4.84" height="4.84" fill="#ffc800"/>
<rect x="353.99" y="105.23" width="4.84" height="4.84" fill="#ffc300"/>
<rect x="358.78" y="105.23" width="4.84" height="4.84" fill="#ffc700"/>
<rect x="363.57" y="105.23" width="4.84" height="4.84" fill="#ffc600"/>
<rect x="368.36" y="105.23" width="4.84" height="4.84" fill="#ffc300"/>
<rect x="373.15" y="105.23" width="4.84" height="4.84" fill="#ffc500"/>
<rect x="377.94" y="105.23" width="4.84" height="4.84" fill="#ffc800"/>
<rect x="382.73" y="105.23" width="4.84" height="4.84" fill="#ffc700"/>
<rect x="387.52" y="105.23" width="4.84" height="4.84" fill="#ffc300"/>
<rect x="392.31" y="105.23" width="4.84" height="4.84" fill="#ffca00"/>
<rect x="397.1" y="105.23" width="4.84" height="4.84" fill="#ffc900"/>
<rect x="401.89" y="105.23" width="4.84" height="4.84" fill="#ffca00"/>
<rect x="406.68" y="105.23" width="4.84" height="4.84" fill="#ffc400"/>
<rect x="411.47" y="105.23" width="4.84" height="4.84" fill="#ffc500"/>
<rect x="416.26" y="105.23" width="4.84" height="4.84" fill="#ffc900"/>
<rect x="421.05" y="105.23" width="4.84" height="4.84" fill="#ffea00"/>
<rect x="425.84" y="105.23" width="4.84" height="4.84" fill="#ffff11"/>
<rect x="430.63" y="105.23" width="4.84" height="4.84" fill="#ff1100"/>
<rect x="435.42" y="105.23" width="4.84" height="4.84" fill="#fff700"/>
<rect x="440.21" y="105.23" width="4.84" height="4.84" fill="#ffe000"/>
<rect x="349.2" y="110.02" width="4.84" height="4.84" fill="#ffca00"/>
<rect x="353.99" y="110.02" width="4.84" height="4.84" fill="#ffc900"/>
<rect x="358.78" y="110.02" width="4.84" height="4.84" fill="#ffc500"/>
<rect x="363.57" y="110.02" width="4.84" height="4.84" fill="#ffc400"/>
<rect x="368.36" y="110.02" width="4.84" height="4.84" fill="#ffca00"/>
<rect x="373.15" y="110.02" width="4.84" height="4.84" fill="#ffc700"/>
<rect x="377.94" y="110.02" width="4.84" height="4.84" fill="#ffc800"/>
<rect x="382.73" y="110.02" width="4.84" height="4.84" fill="#ffc300"/>
<rect x="387.52" y="110.02" width="4.84" height="4.84" fill="#ffc300"/>
<rect x="392.31" y="110.02" width="4.84" height="4.84" fill="#ffc800"/>
<rect x="397.1" y="110.02" width="4.84" height="4.84" fill="#ffc600"/>
<rect x="401.89" y="110.02" width="4.84" height="4.84" fill="#ffc300"/>
<rect x="406.68" y="110.02" width="4.84" height="4.84" fill="#ffca00"/>
<rect x="411.47" y="110.02" width="4.84" height="4.84" fill="#ffc800"/>
<rect x="416.26" y="110.02" width="4.84" height="4.84" fill="#ffc900"/>
<rect x="421.05" y="110.02" width="4.84" height="4.84" fill="#ffca00"/>
<rect x="425.84" y="110.02" width="4.84" height="4.84" fill="#ffec00"/>
<rect x="430.63" y="110.02" width="4.84" height="4.84" fill="#fff500"/>
<rect x="435.42" y="110.02" width="4.84" height="4.84" fill="#ff7a00"/>
<rect x="440.21" y="110.02" width="4.84" height="4.84" fill="#fffe00"/>
<rect x="349.2" y="114.81" width="4.84" height="4.84" fill="#ffc600"/>
<rect x="353.99" y="114.81" width="4.84" height="4.84" fill="#ffc500"/>
<rect x="358.78" y="114.81" width="4.84" height="4.84" fill="#ffc700"/>
<rect x="363.57" y="114.81" width="4.84" height="4.84" fill="#ffca00"/>
<rect x="368.36" y="114.81" width="4.84" height="4.84" fill="#ffc500"/>
<rect x="373.15" y="114.81" width="4.84" height="4.84" fill="#ffc400"/>
<rect x="377.94" y="114.81" width="4.84" height="4.84" fill="#ffc700"/>
<rect x="382.73" y="114.81" width="4.84" height="4.84" fill="#ffc500"/>
<rect x="387.52" y="114.81" width="4.84" height="4.84" fill="#ffc400"/>
<rect x="392.31" y="114.81" width="4.84" height="4.84" fill="#ffc400"/>
<rect x="397.1" y="114.81" width="4.84" height="4.84" fill="#ffc300"/>
<rect x="401.89" y="114.81" width="4.84" height="4.84" fill="#ffc400"/>
<rect x="406.68" y="114.81" width="4.84" height="4.84" fill="#ffc500"/>
<rect x="411.47" y="114.81" width="4.84" height="4.84" fill="#ffc500"/>
<rect x="416.26" y="114.81" width="4.84" height="4.84" fill="#ffc900"/>
<rect x="421.05" y="114.81" width="4.84" height="4.84" fill="#ffc500"/>
<rect x="425.84" y="114.81" width="4.84" height="4.84" fill="#ffd000"/>
<rect x="430.63" y="114.81" width="4.84" height="4.84" fill="#ffda00"/>
<rect x="435.42" y="114.81" width="4.84" height="4.84" fill="#ffef00"/>
<rect x="440.21" y="114.81" width="4.84" height="4.84" fill="#ffc600"/>
</g>
<rect x="349.2" y="23.8" width="95.8" height="95.8" fill="none" stroke="#333" stroke-width="0.9"/>
<line x1="349.2" y1="25" x2="350.7" y2="25" stroke="#333" stroke-width="1" />
<line x1="445" y1="25" x2="443.5" y2="25" stroke="#333" stroke-width="1" />
<line x1="349.2" y1="69.8" x2="350.7" y2="69.8" stroke="#333" stroke-width="1" />
<line x1="445" y1="69.8" x2="443.5" y2="69.8" stroke="#333" stroke-width="1" />
<line x1="349.2" y1="116.9" x2="350.7" y2="116.9" stroke="#333" stroke-width="1" />
<line x1="445" y1="116.9" x2="443.5" y2="116.9" stroke="#333" stroke-width="1" />
<line x1="350.2" y1="23.8" x2="350.2" y2="25.3" stroke="#333" stroke-width="1" />
<line x1="350.2" y1="119.6" x2="350.2" y2="118.1" stroke="#333" stroke-width="1" />
<line x1="394.6" y1="23.8" x2="394.6" y2="25.3" stroke="#333" stroke-width="1" />
<line x1="394.6" y1="119.6" x2="394.6" y2="118.1" stroke="#333" stroke-width="1" />
<line x1="439.2" y1="23.8" x2="439.2" y2="25.3" stroke="#333" stroke-width="1" />
<line x1="439.2" y1="119.6" x2="439.2" y2="118.1" stroke="#333" stroke-width="1" />
<text x="345.6" y="28.76" font-size="9.6" text-anchor="end" fill="#000" >0</text>
<text x="345.6" y="74.36" font-size="9.6" text-anchor="end" fill="#000" >60</text>
<text x="345.6" y="121.66" font-size="9.6" text-anchor="end" fill="#000" >120</text>
<text x="350.6" y="130.46" font-size="9.6" text-anchor="middle" fill="#000" >0</text>
<text x="394" y="130.46" font-size="9.6" text-anchor="middle" fill="#000" >60</text>
<text x="439.8" y="130.46" font-size="9.6" text-anchor="middle" fill="#000" >120</text>
<text transform="translate(325.2,71) rotate(-90)" x="0" y="3.29" font-size="9.4" text-anchor="middle" fill="#000" >correct bin (cm)</text>
<text x="396" y="141.4" font-size="9.4" text-anchor="middle" fill="#000" >predicted bin (cm)</text>
<text x="339.2" y="14.4" font-size="9.5" fill="#1010ff">ensemble - <tspan fill="#ff1a1a">ensemble (shuff.)</tspan></text>
<defs><linearGradient id="hotg" x1="0" y1="1" x2="0" y2="0"><stop offset="0" stop-color="#000"/><stop offset="0.375" stop-color="#f00"/><stop offset="0.75" stop-color="#ff0"/><stop offset="1" stop-color="#fff"/></linearGradient></defs>
<rect x="455.2" y="25.4" width="5.6" height="95" fill="url(#hotg)" stroke="#333" stroke-width="0.8"/>
<line x1="455.2" y1="35.96" x2="456.6" y2="35.96" stroke="#333" stroke-width="1" />
<line x1="460.8" y1="35.96" x2="459.4" y2="35.96" stroke="#333" stroke-width="1" />
<text x="463.2" y="39.41" font-size="9.6" text-anchor="start" fill="#000" >10</text>
<line x1="455.2" y1="57.07" x2="456.6" y2="57.07" stroke="#333" stroke-width="1" />
<line x1="460.8" y1="57.07" x2="459.4" y2="57.07" stroke="#333" stroke-width="1" />
<text x="463.2" y="60.52" font-size="9.6" text-anchor="start" fill="#000" >0</text>
<line x1="455.2" y1="78.18" x2="456.6" y2="78.18" stroke="#333" stroke-width="1" />
<line x1="460.8" y1="78.18" x2="459.4" y2="78.18" stroke="#333" stroke-width="1" />
<text x="463.2" y="81.63" font-size="9.6" text-anchor="start" fill="#000" >-10</text>
<line x1="455.2" y1="99.29" x2="456.6" y2="99.29" stroke="#333" stroke-width="1" />
<line x1="460.8" y1="99.29" x2="459.4" y2="99.29" stroke="#333" stroke-width="1" />
<text x="463.2" y="102.74" font-size="9.6" text-anchor="start" fill="#000" >-20</text>
<line x1="455.2" y1="120.4" x2="456.6" y2="120.4" stroke="#333" stroke-width="1" />
<line x1="460.8" y1="120.4" x2="459.4" y2="120.4" stroke="#333" stroke-width="1" />
<text x="463.2" y="123.86" font-size="9.6" text-anchor="start" fill="#000" >-30</text>
<text transform="translate(492.5,73.2) rotate(90)" x="0" y="3.01" font-size="8.6" text-anchor="middle" fill="#000" >dec. performance</text>
<text transform="translate(481.4,72.8) rotate(90)" x="0" y="3.01" font-size="8.6" text-anchor="middle" fill="#000" >%-difference</text>
<text x="519.6" y="11.5" font-size="16" font-weight="bold">d</text>
<line x1="555.4" y1="119.6" x2="557.4" y2="119.6" stroke="#333" stroke-width="1" />
<line x1="555.4" y1="88.67" x2="557.4" y2="88.67" stroke="#333" stroke-width="1" />
<line x1="555.4" y1="57.73" x2="557.4" y2="57.73" stroke="#333" stroke-width="1" />
<line x1="555.4" y1="26.8" x2="557.4" y2="26.8" stroke="#333" stroke-width="1" />
<text x="552.5" y="32.54" font-size="9.6" text-anchor="end" fill="#000" >15</text>
<text x="552.5" y="63.14" font-size="9.6" text-anchor="end" fill="#000" >10</text>
<text x="551.9" y="94.14" font-size="9.6" text-anchor="end" fill="#000" >5</text>
<text x="551.9" y="124.54" font-size="9.6" text-anchor="end" fill="#000" >0</text>
<line x1="555.4" y1="119.6" x2="555.4" y2="117.6" stroke="#333" stroke-width="1" />
<text x="555.2" y="131.84" font-size="9.6" text-anchor="middle" fill="#000" >0</text>
<line x1="584.9" y1="119.6" x2="584.9" y2="117.6" stroke="#333" stroke-width="1" />
<text x="584.9" y="131.84" font-size="9.6" text-anchor="middle" fill="#000" >5</text>
<line x1="614.4" y1="119.6" x2="614.4" y2="117.6" stroke="#333" stroke-width="1" />
<text x="614.5" y="131.84" font-size="9.6" text-anchor="middle" fill="#000" >10</text>
<line x1="643.9" y1="119.6" x2="643.9" y2="117.6" stroke="#333" stroke-width="1" />
<text x="643.7" y="131.84" font-size="9.6" text-anchor="middle" fill="#000" >15</text>
<line x1="673.4" y1="119.6" x2="673.4" y2="117.6" stroke="#333" stroke-width="1" />
<text x="673.8" y="131.84" font-size="9.6" text-anchor="middle" fill="#000" >20</text>
<line x1="555.4" y1="26.8" x2="555.4" y2="119.6" stroke="#333" stroke-width="1" />
<line x1="555.4" y1="119.6" x2="673.4" y2="119.6" stroke="#333" stroke-width="1" />
<text transform="translate(532.8,73) rotate(-90)" x="0" y="3.29" font-size="9.4" text-anchor="middle" fill="#000" >RMS error (cm)</text>
<text x="611.6" y="142.6" font-size="9.4" text-anchor="middle" fill="#000" >spatial bin</text>
<line x1="561.3" y1="50.93" x2="561.3" y2="26.18" stroke="#3030f0" stroke-width="0.9" />
<line x1="558.9" y1="50.93" x2="563.7" y2="50.93" stroke="#3030f0" stroke-width="0.9" />
<line x1="558.9" y1="26.18" x2="563.7" y2="26.18" stroke="#3030f0" stroke-width="0.9" />
<line x1="567.2" y1="75.67" x2="567.2" y2="52.17" stroke="#6a6af8" stroke-width="0.9" />
<line x1="564.8" y1="75.67" x2="569.6" y2="75.67" stroke="#6a6af8" stroke-width="0.9" />
<line x1="564.8" y1="52.17" x2="569.6" y2="52.17" stroke="#6a6af8" stroke-width="0.9" />
<line x1="573.1" y1="69.49" x2="573.1" y2="47.22" stroke="#3030f0" stroke-width="0.9" />
<line x1="570.7" y1="69.49" x2="575.5" y2="69.49" stroke="#3030f0" stroke-width="0.9" />
<line x1="570.7" y1="47.22" x2="575.5" y2="47.22" stroke="#3030f0" stroke-width="0.9" />
<line x1="579" y1="65.16" x2="579" y2="46.6" stroke="#6a6af8" stroke-width="0.9" />
<line x1="576.6" y1="65.16" x2="581.4" y2="65.16" stroke="#6a6af8" stroke-width="0.9" />
<line x1="576.6" y1="46.6" x2="581.4" y2="46.6" stroke="#6a6af8" stroke-width="0.9" />
<line x1="584.9" y1="63.3" x2="584.9" y2="45.98" stroke="#3030f0" stroke-width="0.9" />
<line x1="582.5" y1="63.3" x2="587.3" y2="63.3" stroke="#3030f0" stroke-width="0.9" />
<line x1="582.5" y1="45.98" x2="587.3" y2="45.98" stroke="#3030f0" stroke-width="0.9" />
<line x1="590.8" y1="61.45" x2="590.8" y2="45.36" stroke="#6a6af8" stroke-width="0.9" />
<line x1="588.4" y1="61.45" x2="593.2" y2="61.45" stroke="#6a6af8" stroke-width="0.9" />
<line x1="588.4" y1="45.36" x2="593.2" y2="45.36" stroke="#6a6af8" stroke-width="0.9" />
<line x1="596.7" y1="60.83" x2="596.7" y2="44.74" stroke="#3030f0" stroke-width="0.9" />
<line x1="594.3" y1="60.83" x2="599.1" y2="60.83" stroke="#3030f0" stroke-width="0.9" />
<line x1="594.3" y1="44.74" x2="599.1" y2="44.74" stroke="#3030f0" stroke-width="0.9" />
<line x1="602.6" y1="60.83" x2="602.6" y2="44.74" stroke="#6a6af8" stroke-width="0.9" />
<line x1="600.2" y1="60.83" x2="605" y2="60.83" stroke="#6a6af8" stroke-width="0.9" />
<line x1="600.2" y1="44.74" x2="605" y2="44.74" stroke="#6a6af8" stroke-width="0.9" />
<line x1="608.5" y1="60.83" x2="608.5" y2="45.98" stroke="#3030f0" stroke-width="0.9" />
<line x1="606.1" y1="60.83" x2="610.9" y2="60.83" stroke="#3030f0" stroke-width="0.9" />
<line x1="606.1" y1="45.98" x2="610.9" y2="45.98" stroke="#3030f0" stroke-width="0.9" />
<line x1="614.4" y1="61.45" x2="614.4" y2="46.6" stroke="#6a6af8" stroke-width="0.9" />
<line x1="612" y1="61.45" x2="616.8" y2="61.45" stroke="#6a6af8" stroke-width="0.9" />
<line x1="612" y1="46.6" x2="616.8" y2="46.6" stroke="#6a6af8" stroke-width="0.9" />
<line x1="620.3" y1="61.45" x2="620.3" y2="46.6" stroke="#3030f0" stroke-width="0.9" />
<line x1="617.9" y1="61.45" x2="622.7" y2="61.45" stroke="#3030f0" stroke-width="0.9" />
<line x1="617.9" y1="46.6" x2="622.7" y2="46.6" stroke="#3030f0" stroke-width="0.9" />
<line x1="626.2" y1="62.06" x2="626.2" y2="47.22" stroke="#6a6af8" stroke-width="0.9" />
<line x1="623.8" y1="62.06" x2="628.6" y2="62.06" stroke="#6a6af8" stroke-width="0.9" />
<line x1="623.8" y1="47.22" x2="628.6" y2="47.22" stroke="#6a6af8" stroke-width="0.9" />
<line x1="632.1" y1="62.06" x2="632.1" y2="47.22" stroke="#3030f0" stroke-width="0.9" />
<line x1="629.7" y1="62.06" x2="634.5" y2="62.06" stroke="#3030f0" stroke-width="0.9" />
<line x1="629.7" y1="47.22" x2="634.5" y2="47.22" stroke="#3030f0" stroke-width="0.9" />
<line x1="638" y1="61.45" x2="638" y2="46.6" stroke="#6a6af8" stroke-width="0.9" />
<line x1="635.6" y1="61.45" x2="640.4" y2="61.45" stroke="#6a6af8" stroke-width="0.9" />
<line x1="635.6" y1="46.6" x2="640.4" y2="46.6" stroke="#6a6af8" stroke-width="0.9" />
<line x1="643.9" y1="61.45" x2="643.9" y2="45.36" stroke="#3030f0" stroke-width="0.9" />
<line x1="641.5" y1="61.45" x2="646.3" y2="61.45" stroke="#3030f0" stroke-width="0.9" />
<line x1="641.5" y1="45.36" x2="646.3" y2="45.36" stroke="#3030f0" stroke-width="0.9" />
<line x1="649.8" y1="60.83" x2="649.8" y2="44.74" stroke="#6a6af8" stroke-width="0.9" />
<line x1="647.4" y1="60.83" x2="652.2" y2="60.83" stroke="#6a6af8" stroke-width="0.9" />
<line x1="647.4" y1="44.74" x2="652.2" y2="44.74" stroke="#6a6af8" stroke-width="0.9" />
<line x1="655.7" y1="62.06" x2="655.7" y2="45.98" stroke="#3030f0" stroke-width="0.9" />
<line x1="653.3" y1="62.06" x2="658.1" y2="62.06" stroke="#3030f0" stroke-width="0.9" />
<line x1="653.3" y1="45.98" x2="658.1" y2="45.98" stroke="#3030f0" stroke-width="0.9" />
<line x1="661.6" y1="65.16" x2="661.6" y2="46.6" stroke="#6a6af8" stroke-width="0.9" />
<line x1="659.2" y1="65.16" x2="664" y2="65.16" stroke="#6a6af8" stroke-width="0.9" />
<line x1="659.2" y1="46.6" x2="664" y2="46.6" stroke="#6a6af8" stroke-width="0.9" />
<line x1="667.5" y1="70.73" x2="667.5" y2="47.22" stroke="#3030f0" stroke-width="0.9" />
<line x1="665.1" y1="70.73" x2="669.9" y2="70.73" stroke="#3030f0" stroke-width="0.9" />
<line x1="665.1" y1="47.22" x2="669.9" y2="47.22" stroke="#3030f0" stroke-width="0.9" />
<line x1="673.4" y1="50.31" x2="673.4" y2="25.56" stroke="#6a6af8" stroke-width="0.9" />
<line x1="671" y1="50.31" x2="675.8" y2="50.31" stroke="#6a6af8" stroke-width="0.9" />
<line x1="671" y1="25.56" x2="675.8" y2="25.56" stroke="#6a6af8" stroke-width="0.9" />
<polyline points="561.3,38.55 567.2,63.92 573.1,58.35 579,55.88 584.9,54.64 590.8,53.4 596.7,52.78 602.6,52.78 608.5,53.4 614.4,54.02 620.3,54.02 626.2,54.64 632.1,54.64 638,54.02 643.9,53.4 649.8,52.78 655.7,54.02 661.6,55.88 667.5,58.97 673.4,37.94" fill="none" stroke="#3030f0" stroke-width="1.0" stroke-linejoin="round" />
<line x1="561.3" y1="97.95" x2="561.3" y2="73.2" stroke="#f03030" stroke-width="0.9" />
<line x1="558.9" y1="97.95" x2="563.7" y2="97.95" stroke="#f03030" stroke-width="0.9" />
<line x1="558.9" y1="73.2" x2="563.7" y2="73.2" stroke="#f03030" stroke-width="0.9" />
<line x1="567.2" y1="104.75" x2="567.2" y2="83.72" stroke="#f86a6a" stroke-width="0.9" />
<line x1="564.8" y1="104.75" x2="569.6" y2="104.75" stroke="#f86a6a" stroke-width="0.9" />
<line x1="564.8" y1="83.72" x2="569.6" y2="83.72" stroke="#f86a6a" stroke-width="0.9" />
<line x1="573.1" y1="97.95" x2="573.1" y2="79.39" stroke="#f03030" stroke-width="0.9" />
<line x1="570.7" y1="97.95" x2="575.5" y2="97.95" stroke="#f03030" stroke-width="0.9" />
<line x1="570.7" y1="79.39" x2="575.5" y2="79.39" stroke="#f03030" stroke-width="0.9" />
<line x1="579" y1="91.76" x2="579" y2="76.91" stroke="#f86a6a" stroke-width="0.9" />
<line x1="576.6" y1="91.76" x2="581.4" y2="91.76" stroke="#f86a6a" stroke-width="0.9" />
<line x1="576.6" y1="76.91" x2="581.4" y2="76.91" stroke="#f86a6a" stroke-width="0.9" />
<line x1="584.9" y1="88.67" x2="584.9" y2="75.06" stroke="#f03030" stroke-width="0.9" />
<line x1="582.5" y1="88.67" x2="587.3" y2="88.67" stroke="#f03030" stroke-width="0.9" />
<line x1="582.5" y1="75.06" x2="587.3" y2="75.06" stroke="#f03030" stroke-width="0.9" />
<line x1="590.8" y1="85.57" x2="590.8" y2="73.2" stroke="#f86a6a" stroke-width="0.9" />
<line x1="588.4" y1="85.57" x2="593.2" y2="85.57" stroke="#f86a6a" stroke-width="0.9" />
<line x1="588.4" y1="73.2" x2="593.2" y2="73.2" stroke="#f86a6a" stroke-width="0.9" />
<line x1="596.7" y1="83.72" x2="596.7" y2="71.34" stroke="#f03030" stroke-width="0.9" />
<line x1="594.3" y1="83.72" x2="599.1" y2="83.72" stroke="#f03030" stroke-width="0.9" />
<line x1="594.3" y1="71.34" x2="599.1" y2="71.34" stroke="#f03030" stroke-width="0.9" />
<line x1="602.6" y1="82.48" x2="602.6" y2="70.11" stroke="#f86a6a" stroke-width="0.9" />
<line x1="600.2" y1="82.48" x2="605" y2="82.48" stroke="#f86a6a" stroke-width="0.9" />
<line x1="600.2" y1="70.11" x2="605" y2="70.11" stroke="#f86a6a" stroke-width="0.9" />
<line x1="608.5" y1="81.86" x2="608.5" y2="69.49" stroke="#f03030" stroke-width="0.9" />
<line x1="606.1" y1="81.86" x2="610.9" y2="81.86" stroke="#f03030" stroke-width="0.9" />
<line x1="606.1" y1="69.49" x2="610.9" y2="69.49" stroke="#f03030" stroke-width="0.9" />
<line x1="614.4" y1="81.24" x2="614.4" y2="68.87" stroke="#f86a6a" stroke-width="0.9" />
<line x1="612" y1="81.24" x2="616.8" y2="81.24" stroke="#f86a6a" stroke-width="0.9" />
<line x1="612" y1="68.87" x2="616.8" y2="68.87" stroke="#f86a6a" stroke-width="0.9" />
<line x1="620.3" y1="81.24" x2="620.3" y2="68.87" stroke="#f03030" stroke-width="0.9" />
<line x1="617.9" y1="81.24" x2="622.7" y2="81.24" stroke="#f03030" stroke-width="0.9" />
<line x1="617.9" y1="68.87" x2="622.7" y2="68.87" stroke="#f03030" stroke-width="0.9" />
<line x1="626.2" y1="81.86" x2="626.2" y2="69.49" stroke="#f86a6a" stroke-width="0.9" />
<line x1="623.8" y1="81.86" x2="628.6" y2="81.86" stroke="#f86a6a" stroke-width="0.9" />
<line x1="623.8" y1="69.49" x2="628.6" y2="69.49" stroke="#f86a6a" stroke-width="0.9" />
<line x1="632.1" y1="82.48" x2="632.1" y2="70.11" stroke="#f03030" stroke-width="0.9" />
<line x1="629.7" y1="82.48" x2="634.5" y2="82.48" stroke="#f03030" stroke-width="0.9" />
<line x1="629.7" y1="70.11" x2="634.5" y2="70.11" stroke="#f03030" stroke-width="0.9" />
<line x1="638" y1="83.72" x2="638" y2="71.34" stroke="#f86a6a" stroke-width="0.9" />
<line x1="635.6" y1="83.72" x2="640.4" y2="83.72" stroke="#f86a6a" stroke-width="0.9" />
<line x1="635.6" y1="71.34" x2="640.4" y2="71.34" stroke="#f86a6a" stroke-width="0.9" />
<line x1="643.9" y1="84.95" x2="643.9" y2="72.58" stroke="#f03030" stroke-width="0.9" />
<line x1="641.5" y1="84.95" x2="646.3" y2="84.95" stroke="#f03030" stroke-width="0.9" />
<line x1="641.5" y1="72.58" x2="646.3" y2="72.58" stroke="#f03030" stroke-width="0.9" />
<line x1="649.8" y1="86.81" x2="649.8" y2="74.44" stroke="#f86a6a" stroke-width="0.9" />
<line x1="647.4" y1="86.81" x2="652.2" y2="86.81" stroke="#f86a6a" stroke-width="0.9" />
<line x1="647.4" y1="74.44" x2="652.2" y2="74.44" stroke="#f86a6a" stroke-width="0.9" />
<line x1="655.7" y1="90.52" x2="655.7" y2="76.91" stroke="#f03030" stroke-width="0.9" />
<line x1="653.3" y1="90.52" x2="658.1" y2="90.52" stroke="#f03030" stroke-width="0.9" />
<line x1="653.3" y1="76.91" x2="658.1" y2="76.91" stroke="#f03030" stroke-width="0.9" />
<line x1="661.6" y1="94.85" x2="661.6" y2="78.77" stroke="#f86a6a" stroke-width="0.9" />
<line x1="659.2" y1="94.85" x2="664" y2="94.85" stroke="#f86a6a" stroke-width="0.9" />
<line x1="659.2" y1="78.77" x2="664" y2="78.77" stroke="#f86a6a" stroke-width="0.9" />
<line x1="667.5" y1="101.66" x2="667.5" y2="81.86" stroke="#f03030" stroke-width="0.9" />
<line x1="665.1" y1="101.66" x2="669.9" y2="101.66" stroke="#f03030" stroke-width="0.9" />
<line x1="665.1" y1="81.86" x2="669.9" y2="81.86" stroke="#f03030" stroke-width="0.9" />
<line x1="673.4" y1="97.95" x2="673.4" y2="71.96" stroke="#f86a6a" stroke-width="0.9" />
<line x1="671" y1="97.95" x2="675.8" y2="97.95" stroke="#f86a6a" stroke-width="0.9" />
<line x1="671" y1="71.96" x2="675.8" y2="71.96" stroke="#f86a6a" stroke-width="0.9" />
<polyline points="561.3,85.57 567.2,94.23 573.1,88.67 579,84.34 584.9,81.86 590.8,79.39 596.7,77.53 602.6,76.29 608.5,75.67 614.4,75.06 620.3,75.06 626.2,75.67 632.1,76.29 638,77.53 643.9,78.77 649.8,80.62 655.7,83.72 661.6,86.81 667.5,91.76 673.4,84.95" fill="none" stroke="#f03030" stroke-width="1.0" stroke-linejoin="round" />
<text x="618.6" y="40.3" font-size="8.7" text-anchor="middle" fill="#1010ff" >ensemble</text>
<text x="621" y="104.4" font-size="8.7" text-anchor="middle" fill="#ff1a1a" >ensemble (shuff.)</text>
<text x="-0.2" y="162.8" font-size="16" font-weight="bold">e</text>
<line x1="32.5" y1="399.3" x2="37" y2="399.3" stroke="#333" stroke-width="1" />
<line x1="32.5" y1="368.59" x2="35" y2="368.59" stroke="#333" stroke-width="1" />
<line x1="32.5" y1="346.8" x2="35" y2="346.8" stroke="#333" stroke-width="1" />
<line x1="32.5" y1="329.9" x2="37" y2="329.9" stroke="#333" stroke-width="1" />
<line x1="32.5" y1="316.09" x2="35" y2="316.09" stroke="#333" stroke-width="1" />
<line x1="32.5" y1="304.41" x2="35" y2="304.41" stroke="#333" stroke-width="1" />
<line x1="32.5" y1="294.3" x2="35" y2="294.3" stroke="#333" stroke-width="1" />
<line x1="32.5" y1="285.38" x2="35" y2="285.38" stroke="#333" stroke-width="1" />
<line x1="32.5" y1="277.4" x2="37" y2="277.4" stroke="#333" stroke-width="1" />
<line x1="32.5" y1="224.9" x2="37" y2="224.9" stroke="#333" stroke-width="1" />
<line x1="32.5" y1="194.19" x2="35" y2="194.19" stroke="#333" stroke-width="1" />
<line x1="32.5" y1="172.4" x2="35" y2="172.4" stroke="#333" stroke-width="1" />
<line x1="32.5" y1="155.5" x2="37" y2="155.5" stroke="#333" stroke-width="1" />
<text x="28.6" y="334.74" font-size="9.6" text-anchor="end" fill="#000" >5</text>
<text x="28.6" y="282.24" font-size="9.6" text-anchor="end" fill="#000" >10</text>
<text x="28.6" y="229.74" font-size="9.6" text-anchor="end" fill="#000" >20</text>
<text x="28.6" y="160.34" font-size="9.6" text-anchor="end" fill="#000" >50</text>
<text x="28.1" y="404.36" font-size="9.6" text-anchor="end" fill="#000" >2</text>
<line x1="32.5" y1="399.3" x2="32.5" y2="394.8" stroke="#333" stroke-width="1" />
<text x="30" y="411.06" font-size="9.6" text-anchor="middle" fill="#000" >0</text>
<line x1="71.61" y1="399.3" x2="71.61" y2="394.8" stroke="#333" stroke-width="1" />
<text x="71.61" y="411.06" font-size="9.6" text-anchor="middle" fill="#000" >100</text>
<line x1="110.72" y1="399.3" x2="110.72" y2="394.8" stroke="#333" stroke-width="1" />
<text x="110.72" y="411.06" font-size="9.6" text-anchor="middle" fill="#000" >200</text>
<line x1="149.83" y1="399.3" x2="149.83" y2="394.8" stroke="#333" stroke-width="1" />
<text x="149.83" y="411.06" font-size="9.6" text-anchor="middle" fill="#000" >300</text>
<line x1="188.94" y1="399.3" x2="188.94" y2="394.8" stroke="#333" stroke-width="1" />
<text x="188.94" y="411.06" font-size="9.6" text-anchor="middle" fill="#000" >400</text>
<line x1="228.05" y1="399.3" x2="228.05" y2="394.8" stroke="#333" stroke-width="1" />
<text x="228.05" y="411.06" font-size="9.6" text-anchor="middle" fill="#000" >500</text>
<line x1="32.5" y1="155.5" x2="32.5" y2="399.3" stroke="#333" stroke-width="1" />
<line x1="32.5" y1="399.3" x2="228.05" y2="399.3" stroke="#333" stroke-width="1" />
<text transform="translate(11.8,277) rotate(-90)" x="0" y="3.29" font-size="9.4" text-anchor="middle" fill="#000" >RMS error (cm)</text>
<text x="128.9" y="421.2" font-size="9.6" text-anchor="middle" fill="#000" >number of cells</text>
<line x1="33.7" y1="330.2" x2="226" y2="330.2" stroke="#3a3a3a" stroke-width="1" stroke-dasharray="1.3,2.9"/>
<polyline points="33.07,155.5 33.22,164.42 33.38,172.02 33.55,178.7 33.73,184.69 33.93,190.15 34.13,195.19 34.34,199.88 34.57,204.3 34.81,208.48 35.07,212.45 35.34,216.26 35.63,219.91 35.93,223.43 36.26,226.84 36.6,230.15 36.96,233.37 37.35,236.5 37.76,239.56 38.19,242.56 38.65,245.49 39.13,248.38 39.65,251.21 40.2,254 40.77,256.75 41.39,259.46 42.04,262.13 42.73,264.77 43.46,267.39 44.23,269.98 45.06,272.54 45.93,275.08 46.85,277.6 47.83,280.09 48.86,282.57 49.96,285.03 51.13,287.48 52.36,289.91 53.67,292.33 55.06,294.73 56.53,297.12 58.09,299.5 59.74,301.87 61.5,304.24 63.35,306.59 65.32,308.93 67.41,311.26 69.62,313.59 71.96,315.91 74.45,318.22 77.08,320.53 79.88,322.83 82.84,325.12 85.97,327.41 89.3,329.7 92.82,331.98 96.56,334.25 100.52,336.53 104.72,338.8 109.17,341.06 113.89,343.32 118.89,345.58 124.19,347.83 129.81,350.09 135.76,352.34 142.08,354.58 148.77,356.83 155.86,359.07 163.38,361.31 171.35,363.55 179.8,365.79 188.76,368.02 198.25,370.26 208.31,372.49 218.98,374.72 228.05,376.52" fill="none" stroke="#ff2020" stroke-width="0.9" stroke-linejoin="round" />
<polyline points="33.16,155.5 33.32,163.54 33.49,170.53 33.67,176.75 33.85,182.4 34.05,187.58 34.26,192.4 34.48,196.91 34.72,201.18 34.97,205.22 35.24,209.09 35.52,212.8 35.82,216.37 36.13,219.82 36.47,223.16 36.82,226.41 37.2,229.57 37.6,232.66 38.02,235.68 38.47,238.64 38.95,241.54 39.45,244.39 39.99,247.2 40.55,249.96 41.15,252.68 41.79,255.37 42.47,258.03 43.18,260.65 43.94,263.25 44.74,265.82 45.59,268.37 46.5,270.89 47.45,273.4 48.47,275.88 49.54,278.35 50.68,280.8 51.89,283.24 53.17,285.66 54.53,288.07 55.97,290.47 57.5,292.85 59.11,295.23 60.83,297.59 62.65,299.94 64.57,302.29 66.61,304.63 68.78,306.96 71.07,309.28 73.5,311.59 76.08,313.9 78.81,316.21 81.71,318.5 84.78,320.79 88.03,323.08 91.48,325.36 95.14,327.64 99.01,329.91 103.12,332.18 107.48,334.45 112.09,336.71 116.98,338.97 122.17,341.23 127.67,343.48 133.5,345.73 139.67,347.98 146.22,350.23 153.16,352.47 160.52,354.71 168.32,356.95 176.58,359.19 185.35,361.42 194.63,363.66 204.48,365.89 214.91,368.12 225.98,370.35 228.05,370.75" fill="none" stroke="#ff2020" stroke-width="0.9" stroke-linejoin="round" />
<polyline points="33.2,155.5 33.36,163.24 33.53,170.01 33.71,176.07 33.9,181.59 34.1,186.67 34.32,191.41 34.54,195.85 34.78,200.06 35.04,204.06 35.31,207.88 35.59,211.55 35.9,215.09 36.22,218.51 36.56,221.83 36.92,225.06 37.3,228.2 37.71,231.27 38.14,234.27 38.59,237.22 39.07,240.11 39.59,242.94 40.13,245.74 40.7,248.49 41.31,251.2 41.96,253.88 42.64,256.53 43.37,259.15 44.14,261.74 44.95,264.3 45.82,266.85 46.74,269.37 47.71,271.87 48.74,274.35 49.83,276.81 50.99,279.26 52.21,281.69 53.51,284.11 54.89,286.52 56.35,288.91 57.9,291.29 59.54,293.66 61.28,296.02 63.12,298.38 65.08,300.72 67.15,303.06 69.35,305.38 71.68,307.7 74.14,310.02 76.76,312.32 79.53,314.63 82.47,316.92 85.59,319.21 88.89,321.5 92.39,323.78 96.1,326.05 100.03,328.33 104.2,330.6 108.62,332.86 113.31,335.12 118.27,337.38 123.54,339.64 129.12,341.89 135.03,344.14 141.3,346.39 147.95,348.63 154.99,350.87 162.46,353.12 170.37,355.35 178.76,357.59 187.66,359.83 197.08,362.06 207.07,364.29 217.67,366.52 228.05,368.59" fill="none" stroke="#ff2020" stroke-width="0.9" stroke-linejoin="round" />
<polyline points="33.31,155.5 33.47,162.55 33.65,168.81 33.83,174.48 34.03,179.67 34.24,184.49 34.46,188.99 34.7,193.24 34.95,197.26 35.21,201.1 35.49,204.78 35.79,208.31 36.1,211.72 36.43,215.02 36.79,218.22 37.16,221.33 37.56,224.36 37.98,227.31 38.43,230.2 38.9,233.03 39.4,235.81 39.93,238.53 40.5,241.2 41.09,243.83 41.73,246.42 42.4,248.97 43.11,251.48 43.86,253.96 44.66,256.4 45.51,258.82 46.4,261.2 47.36,263.56 48.36,265.88 49.43,268.18 50.57,270.46 51.77,272.71 53.04,274.93 54.39,277.14 55.82,279.31 57.34,281.47 58.95,283.6 60.65,285.7 62.46,287.79 64.37,289.85 66.4,291.89 68.55,293.9 70.83,295.89 73.25,297.86 75.81,299.8 78.53,301.72 81.41,303.62 84.46,305.49 87.7,307.33 91.13,309.15 94.76,310.94 98.61,312.71 102.7,314.45 107.03,316.16 111.62,317.84 116.48,319.5 121.64,321.12 127.1,322.72 132.9,324.28 139.04,325.82 145.55,327.33 152.45,328.8 159.76,330.24 167.51,331.65 175.73,333.03 184.44,334.38 193.68,335.69 203.47,336.97 213.84,338.22 224.84,339.43 228.05,339.77" fill="none" stroke="#2020ff" stroke-width="0.9" stroke-linejoin="round" />
<polyline points="33.56,155.5 33.74,161.4 33.93,166.77 34.14,171.71 34.35,176.32 34.58,180.64 34.82,184.72 35.08,188.6 35.35,192.3 35.64,195.85 35.95,199.26 36.27,202.55 36.62,205.73 36.98,208.82 37.37,211.82 37.78,214.74 38.21,217.58 38.67,220.36 39.16,223.07 39.67,225.73 40.22,228.33 40.8,230.88 41.42,233.38 42.07,235.84 42.76,238.26 43.49,240.63 44.27,242.96 45.1,245.26 45.97,247.52 46.89,249.74 47.87,251.93 48.91,254.08 50.02,256.2 51.19,258.28 52.42,260.34 53.74,262.36 55.13,264.35 56.6,266.3 58.17,268.23 59.82,270.12 61.58,271.98 63.44,273.81 65.42,275.61 67.51,277.37 69.73,279.1 72.08,280.8 74.57,282.47 77.21,284.1 80.01,285.7 82.98,287.27 86.13,288.8 89.46,290.29 93,291.76 96.74,293.19 100.71,294.58 104.92,295.94 109.39,297.26 114.12,298.55 119.13,299.81 124.45,301.03 130.08,302.21 136.05,303.36 142.38,304.48 149.09,305.56 156.21,306.61 163.75,307.62 171.74,308.6 180.21,309.54 189.19,310.46 198.71,311.34 208.8,312.19 219.5,313.01 228.05,313.61" fill="none" stroke="#2020ff" stroke-width="0.9" stroke-linejoin="round" />
<polyline points="33.93,155.5 34.14,160.44 34.35,165.04 34.58,169.35 34.82,173.42 35.08,177.28 35.35,180.97 35.64,184.5 35.95,187.9 36.27,191.17 36.61,194.34 36.98,197.4 37.36,200.38 37.77,203.28 38.21,206.1 38.67,208.86 39.15,211.55 39.67,214.18 40.22,216.75 40.8,219.28 41.41,221.75 42.07,224.18 42.76,226.56 43.49,228.9 44.27,231.2 45.09,233.46 45.96,235.67 46.89,237.86 47.87,240 48.91,242.11 50.01,244.18 51.18,246.22 52.41,248.23 53.73,250.2 55.12,252.13 56.59,254.04 58.15,255.9 59.81,257.74 61.57,259.54 63.43,261.3 65.4,263.04 67.49,264.74 69.71,266.4 72.06,268.03 74.55,269.62 77.19,271.18 79.99,272.71 82.96,274.2 86.1,275.66 89.43,277.08 92.97,278.46 96.71,279.81 100.68,281.12 104.89,282.4 109.35,283.64 114.08,284.85 119.09,286.02 124.41,287.16 130.04,288.26 136.01,289.33 142.34,290.36 149.04,291.36 156.15,292.32 163.69,293.26 171.68,294.16 180.15,295.02 189.12,295.86 198.64,296.66 208.72,297.43 219.41,298.18 228.05,298.73" fill="none" stroke="#2020ff" stroke-width="0.9" stroke-linejoin="round" />
<rect x="34.05" y="191.54" width="1.6" height="1.6" fill="#2020ff"/>
<rect x="38.35" y="230.34" width="1.6" height="1.6" fill="#2020ff"/>
<rect x="42.65" y="249.35" width="1.6" height="1.6" fill="#2020ff"/>
<rect x="46.95" y="261.66" width="1.6" height="1.6" fill="#2020ff"/>
<rect x="51.26" y="269.07" width="1.6" height="1.6" fill="#2020ff"/>
<rect x="55.56" y="277.13" width="1.6" height="1.6" fill="#2020ff"/>
<rect x="59.86" y="283.1" width="1.6" height="1.6" fill="#2020ff"/>
<rect x="64.16" y="286.51" width="1.6" height="1.6" fill="#2020ff"/>
<rect x="68.46" y="292.1" width="1.6" height="1.6" fill="#2020ff"/>
<rect x="72.77" y="295.94" width="1.6" height="1.6" fill="#2020ff"/>
<rect x="77.46" y="298.97" width="1.6" height="1.6" fill="#2020ff"/>
<rect x="82.15" y="303.47" width="1.6" height="1.6" fill="#2020ff"/>
<rect x="86.85" y="304.95" width="1.6" height="1.6" fill="#2020ff"/>
<rect x="91.54" y="308.98" width="1.6" height="1.6" fill="#2020ff"/>
<rect x="96.23" y="311.35" width="1.6" height="1.6" fill="#2020ff"/>
<rect x="100.92" y="312.51" width="1.6" height="1.6" fill="#2020ff"/>
<rect x="105.62" y="314.69" width="1.6" height="1.6" fill="#2020ff"/>
<rect x="110.31" y="315.84" width="1.6" height="1.6" fill="#2020ff"/>
<rect x="115" y="316.62" width="1.6" height="1.6" fill="#2020ff"/>
<rect x="119.7" y="319.15" width="1.6" height="1.6" fill="#2020ff"/>
<rect x="124.39" y="319.67" width="1.6" height="1.6" fill="#2020ff"/>
<rect x="129.08" y="322.62" width="1.6" height="1.6" fill="#2020ff"/>
<rect x="34.05" y="179.88" width="1.6" height="1.6" fill="#2020ff"/>
<rect x="38.35" y="219.11" width="1.6" height="1.6" fill="#2020ff"/>
<rect x="42.65" y="237.51" width="1.6" height="1.6" fill="#2020ff"/>
<rect x="46.95" y="248.58" width="1.6" height="1.6" fill="#2020ff"/>
<rect x="51.26" y="255.27" width="1.6" height="1.6" fill="#2020ff"/>
<rect x="55.56" y="261.95" width="1.6" height="1.6" fill="#2020ff"/>
<rect x="59.86" y="268.2" width="1.6" height="1.6" fill="#2020ff"/>
<rect x="64.16" y="273.09" width="1.6" height="1.6" fill="#2020ff"/>
<rect x="68.46" y="276.42" width="1.6" height="1.6" fill="#2020ff"/>
<rect x="72.77" y="280.15" width="1.6" height="1.6" fill="#2020ff"/>
<rect x="77.46" y="281.57" width="1.6" height="1.6" fill="#2020ff"/>
<rect x="82.15" y="284.27" width="1.6" height="1.6" fill="#2020ff"/>
<rect x="86.85" y="287.22" width="1.6" height="1.6" fill="#2020ff"/>
<rect x="91.54" y="289.51" width="1.6" height="1.6" fill="#2020ff"/>
<rect x="96.23" y="292.58" width="1.6" height="1.6" fill="#2020ff"/>
<rect x="100.92" y="293.86" width="1.6" height="1.6" fill="#2020ff"/>
<rect x="105.62" y="294.37" width="1.6" height="1.6" fill="#2020ff"/>
<rect x="110.31" y="297.28" width="1.6" height="1.6" fill="#2020ff"/>
<rect x="115" y="298.11" width="1.6" height="1.6" fill="#2020ff"/>
<rect x="119.7" y="298.43" width="1.6" height="1.6" fill="#2020ff"/>
<rect x="124.39" y="300.03" width="1.6" height="1.6" fill="#2020ff"/>
<rect x="129.08" y="299.69" width="1.6" height="1.6" fill="#2020ff"/>
<rect x="133.78" y="302.39" width="1.6" height="1.6" fill="#2020ff"/>
<rect x="138.47" y="302.55" width="1.6" height="1.6" fill="#2020ff"/>
<rect x="143.16" y="302.92" width="1.6" height="1.6" fill="#2020ff"/>
<rect x="147.86" y="303.6" width="1.6" height="1.6" fill="#2020ff"/>
<rect x="152.55" y="304.46" width="1.6" height="1.6" fill="#2020ff"/>
<rect x="157.24" y="304.69" width="1.6" height="1.6" fill="#2020ff"/>
<rect x="161.94" y="306.83" width="1.6" height="1.6" fill="#2020ff"/>
<rect x="166.63" y="306.17" width="1.6" height="1.6" fill="#2020ff"/>
<rect x="171.32" y="306.96" width="1.6" height="1.6" fill="#2020ff"/>
<rect x="176.02" y="308.18" width="1.6" height="1.6" fill="#2020ff"/>
<rect x="180.71" y="308.75" width="1.6" height="1.6" fill="#2020ff"/>
<rect x="185.4" y="308.76" width="1.6" height="1.6" fill="#2020ff"/>
<rect x="190.1" y="309.87" width="1.6" height="1.6" fill="#2020ff"/>
<rect x="194.79" y="308.75" width="1.6" height="1.6" fill="#2020ff"/>
<rect x="199.48" y="310.28" width="1.6" height="1.6" fill="#2020ff"/>
<rect x="204.18" y="310.1" width="1.6" height="1.6" fill="#2020ff"/>
<rect x="208.87" y="310.95" width="1.6" height="1.6" fill="#2020ff"/>
<rect x="213.56" y="310.71" width="1.6" height="1.6" fill="#2020ff"/>
<rect x="218.25" y="310.48" width="1.6" height="1.6" fill="#2020ff"/>
<rect x="222.95" y="312.55" width="1.6" height="1.6" fill="#2020ff"/>
<rect x="34.05" y="168.53" width="1.6" height="1.6" fill="#2020ff"/>
<rect x="38.35" y="207.64" width="1.6" height="1.6" fill="#2020ff"/>
<rect x="42.65" y="224.43" width="1.6" height="1.6" fill="#2020ff"/>
<rect x="46.95" y="235.65" width="1.6" height="1.6" fill="#2020ff"/>
<rect x="51.26" y="244.64" width="1.6" height="1.6" fill="#2020ff"/>
<rect x="55.56" y="250.38" width="1.6" height="1.6" fill="#2020ff"/>
<rect x="59.86" y="254.71" width="1.6" height="1.6" fill="#2020ff"/>
<rect x="64.16" y="259.52" width="1.6" height="1.6" fill="#2020ff"/>
<rect x="68.46" y="262.45" width="1.6" height="1.6" fill="#2020ff"/>
<rect x="72.77" y="267.2" width="1.6" height="1.6" fill="#2020ff"/>
<rect x="77.46" y="269.35" width="1.6" height="1.6" fill="#2020ff"/>
<rect x="82.15" y="271.63" width="1.6" height="1.6" fill="#2020ff"/>
<rect x="86.85" y="273.65" width="1.6" height="1.6" fill="#2020ff"/>
<rect x="91.54" y="276.08" width="1.6" height="1.6" fill="#2020ff"/>
<rect x="96.23" y="278.1" width="1.6" height="1.6" fill="#2020ff"/>
<rect x="100.92" y="279.34" width="1.6" height="1.6" fill="#2020ff"/>
<rect x="105.62" y="280.81" width="1.6" height="1.6" fill="#2020ff"/>
<rect x="110.31" y="282.34" width="1.6" height="1.6" fill="#2020ff"/>
<rect x="115" y="283.75" width="1.6" height="1.6" fill="#2020ff"/>
<rect x="119.7" y="285.84" width="1.6" height="1.6" fill="#2020ff"/>
<rect x="124.39" y="286.88" width="1.6" height="1.6" fill="#2020ff"/>
<rect x="129.08" y="286.24" width="1.6" height="1.6" fill="#2020ff"/>
<rect x="133.78" y="286.52" width="1.6" height="1.6" fill="#2020ff"/>
<rect x="138.47" y="288.42" width="1.6" height="1.6" fill="#2020ff"/>
<rect x="143.16" y="288.82" width="1.6" height="1.6" fill="#2020ff"/>
<rect x="147.86" y="290.34" width="1.6" height="1.6" fill="#2020ff"/>
<rect x="152.55" y="290.43" width="1.6" height="1.6" fill="#2020ff"/>
<rect x="157.24" y="290.73" width="1.6" height="1.6" fill="#2020ff"/>
<rect x="161.94" y="290.87" width="1.6" height="1.6" fill="#2020ff"/>
<rect x="166.63" y="292.73" width="1.6" height="1.6" fill="#2020ff"/>
<rect x="171.32" y="292.63" width="1.6" height="1.6" fill="#2020ff"/>
<rect x="176.02" y="293.37" width="1.6" height="1.6" fill="#2020ff"/>
<rect x="180.71" y="293.72" width="1.6" height="1.6" fill="#2020ff"/>
<rect x="185.4" y="294.4" width="1.6" height="1.6" fill="#2020ff"/>
<rect x="190.1" y="294.46" width="1.6" height="1.6" fill="#2020ff"/>
<rect x="194.79" y="294.98" width="1.6" height="1.6" fill="#2020ff"/>
<rect x="34.05" y="208.45" width="1.6" height="1.6" fill="#ff2020"/>
<rect x="38.35" y="247.86" width="1.6" height="1.6" fill="#ff2020"/>
<rect x="42.65" y="266.34" width="1.6" height="1.6" fill="#ff2020"/>
<rect x="46.95" y="278.85" width="1.6" height="1.6" fill="#ff2020"/>
<rect x="51.26" y="288.52" width="1.6" height="1.6" fill="#ff2020"/>
<rect x="55.56" y="296.37" width="1.6" height="1.6" fill="#ff2020"/>
<rect x="59.86" y="302.64" width="1.6" height="1.6" fill="#ff2020"/>
<rect x="64.16" y="307.72" width="1.6" height="1.6" fill="#ff2020"/>
<rect x="68.46" y="312.98" width="1.6" height="1.6" fill="#ff2020"/>
<rect x="72.77" y="316.12" width="1.6" height="1.6" fill="#ff2020"/>
<rect x="77.46" y="321.17" width="1.6" height="1.6" fill="#ff2020"/>
<rect x="82.15" y="323.85" width="1.6" height="1.6" fill="#ff2020"/>
<rect x="86.85" y="328.35" width="1.6" height="1.6" fill="#ff2020"/>
<rect x="91.54" y="330.71" width="1.6" height="1.6" fill="#ff2020"/>
<rect x="96.23" y="333.38" width="1.6" height="1.6" fill="#ff2020"/>
<rect x="100.92" y="335.83" width="1.6" height="1.6" fill="#ff2020"/>
<rect x="105.62" y="338.77" width="1.6" height="1.6" fill="#ff2020"/>
<rect x="110.31" y="340.66" width="1.6" height="1.6" fill="#ff2020"/>
<rect x="115" y="343.85" width="1.6" height="1.6" fill="#ff2020"/>
<rect x="119.7" y="346.01" width="1.6" height="1.6" fill="#ff2020"/>
<rect x="124.39" y="348.02" width="1.6" height="1.6" fill="#ff2020"/>
<rect x="129.08" y="349.64" width="1.6" height="1.6" fill="#ff2020"/>
<rect x="34.05" y="191.05" width="1.6" height="1.6" fill="#ff2020"/>
<line x1="34.85" y1="190.25" x2="34.85" y2="193.45" stroke="#ff2020" stroke-width="0.5" />
<rect x="38.35" y="231.49" width="1.6" height="1.6" fill="#ff2020"/>
<line x1="39.15" y1="230.69" x2="39.15" y2="233.89" stroke="#ff2020" stroke-width="0.5" />
<rect x="42.65" y="251" width="1.6" height="1.6" fill="#ff2020"/>
<line x1="43.45" y1="250.2" x2="43.45" y2="253.4" stroke="#ff2020" stroke-width="0.5" />
<rect x="46.95" y="263.81" width="1.6" height="1.6" fill="#ff2020"/>
<line x1="47.75" y1="263.01" x2="47.75" y2="266.21" stroke="#ff2020" stroke-width="0.5" />
<rect x="51.26" y="274.5" width="1.6" height="1.6" fill="#ff2020"/>
<line x1="52.05" y1="273.7" x2="52.05" y2="276.9" stroke="#ff2020" stroke-width="0.5" />
<rect x="55.56" y="283.13" width="1.6" height="1.6" fill="#ff2020"/>
<line x1="56.36" y1="282.33" x2="56.36" y2="285.53" stroke="#ff2020" stroke-width="0.5" />
<rect x="59.86" y="287.58" width="1.6" height="1.6" fill="#ff2020"/>
<line x1="60.66" y1="286.78" x2="60.66" y2="289.98" stroke="#ff2020" stroke-width="0.5" />
<rect x="64.16" y="294.02" width="1.6" height="1.6" fill="#ff2020"/>
<line x1="64.96" y1="293.22" x2="64.96" y2="296.42" stroke="#ff2020" stroke-width="0.5" />
<rect x="68.46" y="300.02" width="1.6" height="1.6" fill="#ff2020"/>
<line x1="69.26" y1="299.22" x2="69.26" y2="302.42" stroke="#ff2020" stroke-width="0.5" />
<rect x="72.77" y="305.4" width="1.6" height="1.6" fill="#ff2020"/>
<line x1="73.57" y1="304.6" x2="73.57" y2="307.8" stroke="#ff2020" stroke-width="0.5" />
<rect x="77.46" y="309.23" width="1.6" height="1.6" fill="#ff2020"/>
<line x1="78.26" y1="308.43" x2="78.26" y2="311.63" stroke="#ff2020" stroke-width="0.5" />
<rect x="82.15" y="314.3" width="1.6" height="1.6" fill="#ff2020"/>
<line x1="82.95" y1="313.5" x2="82.95" y2="316.7" stroke="#ff2020" stroke-width="0.5" />
<rect x="86.85" y="317.9" width="1.6" height="1.6" fill="#ff2020"/>
<line x1="87.65" y1="317.1" x2="87.65" y2="320.3" stroke="#ff2020" stroke-width="0.5" />
<rect x="91.54" y="321.78" width="1.6" height="1.6" fill="#ff2020"/>
<line x1="92.34" y1="320.98" x2="92.34" y2="324.18" stroke="#ff2020" stroke-width="0.5" />
<rect x="96.23" y="324.9" width="1.6" height="1.6" fill="#ff2020"/>
<line x1="97.03" y1="324.1" x2="97.03" y2="327.3" stroke="#ff2020" stroke-width="0.5" />
<rect x="100.92" y="327.67" width="1.6" height="1.6" fill="#ff2020"/>
<line x1="101.72" y1="326.87" x2="101.72" y2="330.07" stroke="#ff2020" stroke-width="0.5" />
<rect x="105.62" y="332.32" width="1.6" height="1.6" fill="#ff2020"/>
<line x1="106.42" y1="331.52" x2="106.42" y2="334.72" stroke="#ff2020" stroke-width="0.5" />
<rect x="110.31" y="334.09" width="1.6" height="1.6" fill="#ff2020"/>
<line x1="111.11" y1="333.29" x2="111.11" y2="336.49" stroke="#ff2020" stroke-width="0.5" />
<rect x="115" y="337.05" width="1.6" height="1.6" fill="#ff2020"/>
<line x1="115.8" y1="336.25" x2="115.8" y2="339.45" stroke="#ff2020" stroke-width="0.5" />
<rect x="119.7" y="339.65" width="1.6" height="1.6" fill="#ff2020"/>
<line x1="120.5" y1="338.85" x2="120.5" y2="342.05" stroke="#ff2020" stroke-width="0.5" />
<rect x="124.39" y="341.23" width="1.6" height="1.6" fill="#ff2020"/>
<line x1="125.19" y1="340.43" x2="125.19" y2="343.63" stroke="#ff2020" stroke-width="0.5" />
<rect x="129.08" y="344.26" width="1.6" height="1.6" fill="#ff2020"/>
<line x1="129.88" y1="343.46" x2="129.88" y2="346.66" stroke="#ff2020" stroke-width="0.5" />
<rect x="133.78" y="345.02" width="1.6" height="1.6" fill="#ff2020"/>
<line x1="134.58" y1="344.22" x2="134.58" y2="347.42" stroke="#ff2020" stroke-width="0.5" />
<rect x="138.47" y="347.45" width="1.6" height="1.6" fill="#ff2020"/>
<line x1="139.27" y1="346.65" x2="139.27" y2="349.85" stroke="#ff2020" stroke-width="0.5" />
<rect x="143.16" y="349" width="1.6" height="1.6" fill="#ff2020"/>
<line x1="143.96" y1="348.2" x2="143.96" y2="351.4" stroke="#ff2020" stroke-width="0.5" />
<rect x="147.86" y="351.62" width="1.6" height="1.6" fill="#ff2020"/>
<line x1="148.66" y1="350.82" x2="148.66" y2="354.02" stroke="#ff2020" stroke-width="0.5" />
<rect x="152.55" y="352.56" width="1.6" height="1.6" fill="#ff2020"/>
<line x1="153.35" y1="351.76" x2="153.35" y2="354.96" stroke="#ff2020" stroke-width="0.5" />
<rect x="157.24" y="352.05" width="1.6" height="1.6" fill="#ff2020"/>
<line x1="158.04" y1="351.25" x2="158.04" y2="354.45" stroke="#ff2020" stroke-width="0.5" />
<rect x="161.94" y="353.32" width="1.6" height="1.6" fill="#ff2020"/>
<line x1="162.74" y1="352.52" x2="162.74" y2="355.72" stroke="#ff2020" stroke-width="0.5" />
<rect x="166.63" y="355.39" width="1.6" height="1.6" fill="#ff2020"/>
<line x1="167.43" y1="354.59" x2="167.43" y2="357.79" stroke="#ff2020" stroke-width="0.5" />
<rect x="171.32" y="357.86" width="1.6" height="1.6" fill="#ff2020"/>
<line x1="172.12" y1="357.06" x2="172.12" y2="360.26" stroke="#ff2020" stroke-width="0.5" />
<rect x="176.02" y="359.83" width="1.6" height="1.6" fill="#ff2020"/>
<line x1="176.82" y1="359.03" x2="176.82" y2="362.23" stroke="#ff2020" stroke-width="0.5" />
<rect x="180.71" y="361.13" width="1.6" height="1.6" fill="#ff2020"/>
<line x1="181.51" y1="360.33" x2="181.51" y2="363.53" stroke="#ff2020" stroke-width="0.5" />
<rect x="185.4" y="362.25" width="1.6" height="1.6" fill="#ff2020"/>
<line x1="186.2" y1="361.45" x2="186.2" y2="364.65" stroke="#ff2020" stroke-width="0.5" />
<rect x="190.1" y="361.78" width="1.6" height="1.6" fill="#ff2020"/>
<line x1="190.9" y1="360.98" x2="190.9" y2="364.18" stroke="#ff2020" stroke-width="0.5" />
<rect x="194.79" y="362.44" width="1.6" height="1.6" fill="#ff2020"/>
<line x1="195.59" y1="361.64" x2="195.59" y2="364.84" stroke="#ff2020" stroke-width="0.5" />
<rect x="199.48" y="364.51" width="1.6" height="1.6" fill="#ff2020"/>
<line x1="200.28" y1="363.71" x2="200.28" y2="366.91" stroke="#ff2020" stroke-width="0.5" />
<rect x="204.18" y="364.31" width="1.6" height="1.6" fill="#ff2020"/>
<line x1="204.98" y1="363.51" x2="204.98" y2="366.71" stroke="#ff2020" stroke-width="0.5" />
<rect x="208.87" y="367.63" width="1.6" height="1.6" fill="#ff2020"/>
<line x1="209.67" y1="366.83" x2="209.67" y2="370.03" stroke="#ff2020" stroke-width="0.5" />
<rect x="213.56" y="368.06" width="1.6" height="1.6" fill="#ff2020"/>
<line x1="214.36" y1="367.26" x2="214.36" y2="370.46" stroke="#ff2020" stroke-width="0.5" />
<rect x="218.25" y="369.69" width="1.6" height="1.6" fill="#ff2020"/>
<line x1="219.05" y1="368.89" x2="219.05" y2="372.09" stroke="#ff2020" stroke-width="0.5" />
<rect x="222.95" y="368.68" width="1.6" height="1.6" fill="#ff2020"/>
<line x1="223.75" y1="367.88" x2="223.75" y2="371.08" stroke="#ff2020" stroke-width="0.5" />
<rect x="34.05" y="191.88" width="1.6" height="1.6" fill="#ff2020"/>
<line x1="34.85" y1="191.08" x2="34.85" y2="194.28" stroke="#ff2020" stroke-width="0.5" />
<rect x="38.35" y="230.71" width="1.6" height="1.6" fill="#ff2020"/>
<line x1="39.15" y1="229.91" x2="39.15" y2="233.11" stroke="#ff2020" stroke-width="0.5" />
<rect x="42.65" y="251.52" width="1.6" height="1.6" fill="#ff2020"/>
<line x1="43.45" y1="250.72" x2="43.45" y2="253.92" stroke="#ff2020" stroke-width="0.5" />
<rect x="46.95" y="265.26" width="1.6" height="1.6" fill="#ff2020"/>
<line x1="47.75" y1="264.46" x2="47.75" y2="267.66" stroke="#ff2020" stroke-width="0.5" />
<rect x="51.26" y="273.46" width="1.6" height="1.6" fill="#ff2020"/>
<line x1="52.05" y1="272.66" x2="52.05" y2="275.86" stroke="#ff2020" stroke-width="0.5" />
<rect x="55.56" y="282.35" width="1.6" height="1.6" fill="#ff2020"/>
<line x1="56.36" y1="281.55" x2="56.36" y2="284.75" stroke="#ff2020" stroke-width="0.5" />
<rect x="59.86" y="287.92" width="1.6" height="1.6" fill="#ff2020"/>
<line x1="60.66" y1="287.12" x2="60.66" y2="290.32" stroke="#ff2020" stroke-width="0.5" />
<rect x="64.16" y="293.62" width="1.6" height="1.6" fill="#ff2020"/>
<line x1="64.96" y1="292.82" x2="64.96" y2="296.02" stroke="#ff2020" stroke-width="0.5" />
<rect x="68.46" y="299.53" width="1.6" height="1.6" fill="#ff2020"/>
<line x1="69.26" y1="298.73" x2="69.26" y2="301.93" stroke="#ff2020" stroke-width="0.5" />
<rect x="72.77" y="303.19" width="1.6" height="1.6" fill="#ff2020"/>
<line x1="73.57" y1="302.39" x2="73.57" y2="305.59" stroke="#ff2020" stroke-width="0.5" />
<rect x="77.46" y="309.58" width="1.6" height="1.6" fill="#ff2020"/>
<line x1="78.26" y1="308.78" x2="78.26" y2="311.98" stroke="#ff2020" stroke-width="0.5" />
<rect x="82.15" y="313.46" width="1.6" height="1.6" fill="#ff2020"/>
<line x1="82.95" y1="312.66" x2="82.95" y2="315.86" stroke="#ff2020" stroke-width="0.5" />
<rect x="86.85" y="315.46" width="1.6" height="1.6" fill="#ff2020"/>
<line x1="87.65" y1="314.66" x2="87.65" y2="317.86" stroke="#ff2020" stroke-width="0.5" />
<rect x="91.54" y="321.63" width="1.6" height="1.6" fill="#ff2020"/>
<line x1="92.34" y1="320.83" x2="92.34" y2="324.03" stroke="#ff2020" stroke-width="0.5" />
<rect x="96.23" y="324.02" width="1.6" height="1.6" fill="#ff2020"/>
<line x1="97.03" y1="323.22" x2="97.03" y2="326.42" stroke="#ff2020" stroke-width="0.5" />
<rect x="100.92" y="328.12" width="1.6" height="1.6" fill="#ff2020"/>
<line x1="101.72" y1="327.32" x2="101.72" y2="330.52" stroke="#ff2020" stroke-width="0.5" />
<rect x="105.62" y="329.49" width="1.6" height="1.6" fill="#ff2020"/>
<line x1="106.42" y1="328.69" x2="106.42" y2="331.89" stroke="#ff2020" stroke-width="0.5" />
<rect x="110.31" y="331.12" width="1.6" height="1.6" fill="#ff2020"/>
<line x1="111.11" y1="330.32" x2="111.11" y2="333.52" stroke="#ff2020" stroke-width="0.5" />
<rect x="115" y="336.63" width="1.6" height="1.6" fill="#ff2020"/>
<line x1="115.8" y1="335.83" x2="115.8" y2="339.03" stroke="#ff2020" stroke-width="0.5" />
<rect x="119.7" y="338.2" width="1.6" height="1.6" fill="#ff2020"/>
<line x1="120.5" y1="337.4" x2="120.5" y2="340.6" stroke="#ff2020" stroke-width="0.5" />
<rect x="124.39" y="338.73" width="1.6" height="1.6" fill="#ff2020"/>
<line x1="125.19" y1="337.93" x2="125.19" y2="341.13" stroke="#ff2020" stroke-width="0.5" />
<rect x="129.08" y="340.24" width="1.6" height="1.6" fill="#ff2020"/>
<line x1="129.88" y1="339.44" x2="129.88" y2="342.64" stroke="#ff2020" stroke-width="0.5" />
<rect x="133.78" y="342.55" width="1.6" height="1.6" fill="#ff2020"/>
<line x1="134.58" y1="341.75" x2="134.58" y2="344.95" stroke="#ff2020" stroke-width="0.5" />
<rect x="138.47" y="346.16" width="1.6" height="1.6" fill="#ff2020"/>
<line x1="139.27" y1="345.36" x2="139.27" y2="348.56" stroke="#ff2020" stroke-width="0.5" />
<rect x="143.16" y="345.39" width="1.6" height="1.6" fill="#ff2020"/>
<line x1="143.96" y1="344.59" x2="143.96" y2="347.79" stroke="#ff2020" stroke-width="0.5" />
<rect x="147.86" y="348.3" width="1.6" height="1.6" fill="#ff2020"/>
<line x1="148.66" y1="347.5" x2="148.66" y2="350.7" stroke="#ff2020" stroke-width="0.5" />
<rect x="152.55" y="348.83" width="1.6" height="1.6" fill="#ff2020"/>
<line x1="153.35" y1="348.03" x2="153.35" y2="351.23" stroke="#ff2020" stroke-width="0.5" />
<rect x="157.24" y="351.48" width="1.6" height="1.6" fill="#ff2020"/>
<line x1="158.04" y1="350.68" x2="158.04" y2="353.88" stroke="#ff2020" stroke-width="0.5" />
<rect x="161.94" y="352.53" width="1.6" height="1.6" fill="#ff2020"/>
<line x1="162.74" y1="351.73" x2="162.74" y2="354.93" stroke="#ff2020" stroke-width="0.5" />
<rect x="166.63" y="353.77" width="1.6" height="1.6" fill="#ff2020"/>
<line x1="167.43" y1="352.97" x2="167.43" y2="356.17" stroke="#ff2020" stroke-width="0.5" />
<rect x="171.32" y="353.67" width="1.6" height="1.6" fill="#ff2020"/>
<line x1="172.12" y1="352.87" x2="172.12" y2="356.07" stroke="#ff2020" stroke-width="0.5" />
<rect x="176.02" y="357.43" width="1.6" height="1.6" fill="#ff2020"/>
<line x1="176.82" y1="356.63" x2="176.82" y2="359.83" stroke="#ff2020" stroke-width="0.5" />
<rect x="180.71" y="356.83" width="1.6" height="1.6" fill="#ff2020"/>
<line x1="181.51" y1="356.03" x2="181.51" y2="359.23" stroke="#ff2020" stroke-width="0.5" />
<rect x="185.4" y="359.43" width="1.6" height="1.6" fill="#ff2020"/>
<line x1="186.2" y1="358.63" x2="186.2" y2="361.83" stroke="#ff2020" stroke-width="0.5" />
<rect x="190.1" y="360.74" width="1.6" height="1.6" fill="#ff2020"/>
<line x1="190.9" y1="359.94" x2="190.9" y2="363.14" stroke="#ff2020" stroke-width="0.5" />
<rect x="194.79" y="361.57" width="1.6" height="1.6" fill="#ff2020"/>
<line x1="195.59" y1="360.77" x2="195.59" y2="363.97" stroke="#ff2020" stroke-width="0.5" />
<text x="93.8" y="271.1" font-size="8.7" text-anchor="start" fill="#1010ff" >ensemble</text>
<text x="56.6" y="364.1" font-size="8.75" text-anchor="start" fill="#ff1a1a" >ensemble (shuff.)</text>
<text x="225.8" y="297" font-size="8.9" text-anchor="start" fill="#1010ff" >ex3</text>
<text x="229.4" y="319" font-size="8.9" text-anchor="start" fill="#1010ff" >ex2</text>
<text x="228.2" y="337.5" font-size="8.9" text-anchor="start" fill="#1010ff" >ex1</text>
<text x="226.6" y="364.4" font-size="8.9" text-anchor="start" fill="#ff1a1a" >ex3</text>
<text x="229.6" y="374.8" font-size="8.9" text-anchor="start" fill="#ff1a1a" >ex2</text>
<text x="227.8" y="386.1" font-size="8.9" text-anchor="start" fill="#ff1a1a" >ex1</text>
<text x="254.2" y="160.4" font-size="16" font-weight="bold">f</text>
<line x1="291.8" y1="399.3" x2="296.8" y2="399.3" stroke="#333" stroke-width="1" />
<text x="287.3" y="402.74" font-size="9.6" text-anchor="end" fill="#000" >0</text>
<line x1="291.8" y1="368.88" x2="296.8" y2="368.88" stroke="#333" stroke-width="1" />
<text x="287.3" y="372.32" font-size="9.6" text-anchor="end" fill="#000" >0.02</text>
<line x1="291.8" y1="338.46" x2="296.8" y2="338.46" stroke="#333" stroke-width="1" />
<text x="287.3" y="341.9" font-size="9.6" text-anchor="end" fill="#000" >0.04</text>
<line x1="291.8" y1="308.04" x2="296.8" y2="308.04" stroke="#333" stroke-width="1" />
<text x="287.3" y="311.48" font-size="9.6" text-anchor="end" fill="#000" >0.06</text>
<line x1="291.8" y1="277.62" x2="296.8" y2="277.62" stroke="#333" stroke-width="1" />
<text x="287.3" y="281.06" font-size="9.6" text-anchor="end" fill="#000" >0.08</text>
<line x1="291.8" y1="247.2" x2="296.8" y2="247.2" stroke="#333" stroke-width="1" />
<text x="287.3" y="250.64" font-size="9.6" text-anchor="end" fill="#000" >0.1</text>
<line x1="291.8" y1="216.78" x2="296.8" y2="216.78" stroke="#333" stroke-width="1" />
<text x="287.3" y="220.22" font-size="9.6" text-anchor="end" fill="#000" >0.12</text>
<line x1="291.8" y1="186.36" x2="296.8" y2="186.36" stroke="#333" stroke-width="1" />
<text x="287.3" y="189.8" font-size="9.6" text-anchor="end" fill="#000" >0.14</text>
<line x1="291.8" y1="155.94" x2="296.8" y2="155.94" stroke="#333" stroke-width="1" />
<text x="287.3" y="159.38" font-size="9.6" text-anchor="end" fill="#000" >0.16</text>
<line x1="291.8" y1="399.3" x2="291.8" y2="394.3" stroke="#333" stroke-width="1" />
<text x="291.8" y="411.06" font-size="9.6" text-anchor="middle" fill="#000" >0</text>
<line x1="330.94" y1="399.3" x2="330.94" y2="394.3" stroke="#333" stroke-width="1" />
<text x="330.94" y="411.06" font-size="9.6" text-anchor="middle" fill="#000" >100</text>
<line x1="370.08" y1="399.3" x2="370.08" y2="394.3" stroke="#333" stroke-width="1" />
<text x="370.08" y="411.06" font-size="9.6" text-anchor="middle" fill="#000" >200</text>
<line x1="409.22" y1="399.3" x2="409.22" y2="394.3" stroke="#333" stroke-width="1" />
<text x="409.22" y="411.06" font-size="9.6" text-anchor="middle" fill="#000" >300</text>
<line x1="448.36" y1="399.3" x2="448.36" y2="394.3" stroke="#333" stroke-width="1" />
<text x="448.36" y="411.06" font-size="9.6" text-anchor="middle" fill="#000" >400</text>
<line x1="487.5" y1="399.3" x2="487.5" y2="394.3" stroke="#333" stroke-width="1" />
<text x="487.5" y="411.06" font-size="9.6" text-anchor="middle" fill="#000" >500</text>
<line x1="291.8" y1="155.94" x2="291.8" y2="399.3" stroke="#333" stroke-width="1" />
<line x1="291.8" y1="399.3" x2="487.5" y2="399.3" stroke="#333" stroke-width="1" />
<text transform="translate(261.9,273.7) rotate(-90)" x="0" y="3.3" font-size="9.4" text-anchor="middle">1/MSE (cm<tspan font-size="6.5" dx="1.5" dy="-4.1">-2</tspan><tspan dx="0.8" dy="4.1">)</tspan></text>
<text x="389.5" y="421.2" font-size="9.6" text-anchor="middle" fill="#000" >number of cells</text>
<polyline points="291.8,399.3 487.5,190.94" fill="none" stroke="#ff2020" stroke-width="0.9" stroke-linejoin="round" />
<polyline points="291.8,399.3 487.5,220.36" fill="none" stroke="#ff2020" stroke-width="0.9" stroke-linejoin="round" />
<polyline points="291.8,399.3 487.5,230.3" fill="none" stroke="#ff2020" stroke-width="0.9" stroke-linejoin="round" />
<polyline points="291.8,399.3 293.76,397.83 295.71,396.39 297.67,394.97 299.63,393.57 301.59,392.2 303.54,390.85 305.5,389.53 307.46,388.22 309.41,386.94 311.37,385.68 313.33,384.44 315.28,383.21 317.24,382.01 319.2,380.83 321.16,379.66 323.11,378.51 325.07,377.38 327.03,376.27 328.98,375.17 330.94,374.09 332.9,373.02 334.85,371.98 336.81,370.94 338.77,369.92 340.73,368.92 342.68,367.93 344.64,366.95 346.6,365.99 348.55,365.04 350.51,364.11 352.47,363.19 354.42,362.28 356.38,361.38 358.34,360.49 360.3,359.62 362.25,358.76 364.21,357.91 366.17,357.07 368.12,356.24 370.08,355.42 372.04,354.62 373.99,353.82 375.95,353.03 377.91,352.26 379.87,351.49 381.82,350.73 383.78,349.99 385.74,349.25 387.69,348.52 389.65,347.8 391.61,347.08 393.56,346.38 395.52,345.69 397.48,345 399.44,344.32 401.39,343.65 403.35,342.99 405.31,342.33 407.26,341.69 409.22,341.05 411.18,340.41 413.13,339.79 415.09,339.17 417.05,338.56 419,337.95 420.96,337.36 422.92,336.77 424.88,336.18 426.83,335.6 428.79,335.03 430.75,334.46 432.7,333.9 434.66,333.35 436.62,332.8 438.58,332.26 440.53,331.72 442.49,331.19 444.45,330.67 446.4,330.15 448.36,329.63 450.32,329.12 452.27,328.62 454.23,328.12 456.19,327.63 458.14,327.14 460.1,326.65 462.06,326.18 464.02,325.7 465.97,325.23 467.93,324.77 469.89,324.3 471.84,323.85 473.8,323.4 475.76,322.95 477.72,322.51 479.67,322.07 481.63,321.63 483.59,321.2 485.54,320.78 487.5,320.35" fill="none" stroke="#2020ff" stroke-width="0.9" stroke-linejoin="round" />
<polyline points="291.8,399.3 293.76,398.19 295.71,397.12 297.67,396.08 299.63,395.09 301.59,394.12 303.54,393.19 305.5,392.29 307.46,391.42 309.41,390.58 311.37,389.76 313.33,388.97 315.28,388.2 317.24,387.45 319.2,386.73 321.16,386.03 323.11,385.35 325.07,384.68 327.03,384.04 328.98,383.41 330.94,382.8 332.9,382.21 334.85,381.63 336.81,381.07 338.77,380.52 340.73,379.99 342.68,379.47 344.64,378.96 346.6,378.46 348.55,377.98 350.51,377.51 352.47,377.05 354.42,376.6 356.38,376.16 358.34,375.73 360.3,375.31 362.25,374.9 364.21,374.5 366.17,374.1 368.12,373.72 370.08,373.34 372.04,372.98 373.99,372.62 375.95,372.26 377.91,371.92 379.87,371.58 381.82,371.25 383.78,370.92 385.74,370.6 387.69,370.29 389.65,369.98 391.61,369.68 393.56,369.39 395.52,369.1 397.48,368.81 399.44,368.53 401.39,368.26 403.35,367.99 405.31,367.73 407.26,367.47 409.22,367.21 411.18,366.96 413.13,366.71 415.09,366.47 417.05,366.23 419,366 420.96,365.77 422.92,365.54 424.88,365.32 426.83,365.1 428.79,364.89 430.75,364.68 432.7,364.47 434.66,364.26 436.62,364.06 438.58,363.86 440.53,363.67 442.49,363.47 444.45,363.28 446.4,363.1 448.36,362.91 450.32,362.73 452.27,362.55 454.23,362.38 456.19,362.2 458.14,362.03 460.1,361.86 462.06,361.7 464.02,361.53 465.97,361.37 467.93,361.21 469.89,361.05 471.84,360.9 473.8,360.75 475.76,360.6 477.72,360.45 479.67,360.3 481.63,360.16 483.59,360.01 485.54,359.87 487.5,359.73" fill="none" stroke="#2020ff" stroke-width="0.9" stroke-linejoin="round" />
<polyline points="291.8,399.3 293.76,398.47 295.71,397.68 297.67,396.92 299.63,396.2 301.59,395.49 303.54,394.82 305.5,394.17 307.46,393.55 309.41,392.95 311.37,392.36 313.33,391.8 315.28,391.26 317.24,390.74 319.2,390.23 321.16,389.74 323.11,389.27 325.07,388.81 327.03,388.37 328.98,387.94 330.94,387.52 332.9,387.11 334.85,386.72 336.81,386.34 338.77,385.97 340.73,385.6 342.68,385.25 344.64,384.91 346.6,384.58 348.55,384.26 350.51,383.94 352.47,383.63 354.42,383.34 356.38,383.04 358.34,382.76 360.3,382.48 362.25,382.21 364.21,381.95 366.17,381.69 368.12,381.44 370.08,381.19 372.04,380.95 373.99,380.72 375.95,380.49 377.91,380.26 379.87,380.04 381.82,379.83 383.78,379.62 385.74,379.41 387.69,379.21 389.65,379.01 391.61,378.82 393.56,378.63 395.52,378.45 397.48,378.26 399.44,378.09 401.39,377.91 403.35,377.74 405.31,377.57 407.26,377.41 409.22,377.25 411.18,377.09 413.13,376.93 415.09,376.78 417.05,376.63 419,376.48 420.96,376.34 422.92,376.19 424.88,376.05 426.83,375.92 428.79,375.78 430.75,375.65 432.7,375.52 434.66,375.39 436.62,375.26 438.58,375.14 440.53,375.02 442.49,374.9 444.45,374.78 446.4,374.66 448.36,374.55 450.32,374.44 452.27,374.32 454.23,374.22 456.19,374.11 458.14,374 460.1,373.9 462.06,373.8 464.02,373.69 465.97,373.59 467.93,373.5 469.89,373.4 471.84,373.3 473.8,373.21 475.76,373.12 477.72,373.03 479.67,372.94 481.63,372.85 483.59,372.76 485.54,372.67 487.5,372.59" fill="none" stroke="#2020ff" stroke-width="0.9" stroke-linejoin="round" />
<rect x="294.13" y="396.21" width="1.6" height="1.6" fill="#2020ff"/>
<rect x="298.05" y="393.41" width="1.6" height="1.6" fill="#2020ff"/>
<rect x="301.96" y="390.61" width="1.6" height="1.6" fill="#2020ff"/>
<rect x="305.87" y="388.2" width="1.6" height="1.6" fill="#2020ff"/>
<rect x="309.79" y="385.39" width="1.6" height="1.6" fill="#2020ff"/>
<rect x="313.7" y="382.92" width="1.6" height="1.6" fill="#2020ff"/>
<rect x="317.62" y="380.39" width="1.6" height="1.6" fill="#2020ff"/>
<rect x="321.53" y="378.27" width="1.6" height="1.6" fill="#2020ff"/>
<rect x="325.44" y="376.57" width="1.6" height="1.6" fill="#2020ff"/>
<rect x="329.36" y="374.26" width="1.6" height="1.6" fill="#2020ff"/>
<rect x="333.27" y="372.04" width="1.6" height="1.6" fill="#2020ff"/>
<rect x="337.19" y="369.89" width="1.6" height="1.6" fill="#2020ff"/>
<rect x="341.1" y="368.3" width="1.6" height="1.6" fill="#2020ff"/>
<rect x="345.01" y="366.49" width="1.6" height="1.6" fill="#2020ff"/>
<rect x="348.93" y="363.48" width="1.6" height="1.6" fill="#2020ff"/>
<rect x="352.84" y="361.57" width="1.6" height="1.6" fill="#2020ff"/>
<rect x="356.76" y="360.21" width="1.6" height="1.6" fill="#2020ff"/>
<rect x="360.67" y="358.43" width="1.6" height="1.6" fill="#2020ff"/>
<rect x="364.58" y="356.58" width="1.6" height="1.6" fill="#2020ff"/>
<rect x="368.5" y="354.52" width="1.6" height="1.6" fill="#2020ff"/>
<rect x="372.41" y="354.63" width="1.6" height="1.6" fill="#2020ff"/>
<rect x="376.33" y="352.62" width="1.6" height="1.6" fill="#2020ff"/>
<rect x="380.24" y="349.98" width="1.6" height="1.6" fill="#2020ff"/>
<rect x="384.15" y="350.18" width="1.6" height="1.6" fill="#2020ff"/>
<rect x="388.07" y="347.08" width="1.6" height="1.6" fill="#2020ff"/>
<rect x="294.13" y="396.77" width="1.6" height="1.6" fill="#2020ff"/>
<rect x="298.05" y="394.74" width="1.6" height="1.6" fill="#2020ff"/>
<rect x="301.96" y="392.73" width="1.6" height="1.6" fill="#2020ff"/>
<rect x="305.87" y="390.93" width="1.6" height="1.6" fill="#2020ff"/>
<rect x="309.79" y="389.34" width="1.6" height="1.6" fill="#2020ff"/>
<rect x="313.7" y="387.85" width="1.6" height="1.6" fill="#2020ff"/>
<rect x="317.62" y="386.37" width="1.6" height="1.6" fill="#2020ff"/>
<rect x="321.53" y="384.81" width="1.6" height="1.6" fill="#2020ff"/>
<rect x="325.44" y="383.67" width="1.6" height="1.6" fill="#2020ff"/>
<rect x="329.36" y="382.49" width="1.6" height="1.6" fill="#2020ff"/>
<rect x="333.27" y="381.03" width="1.6" height="1.6" fill="#2020ff"/>
<rect x="337.19" y="380.34" width="1.6" height="1.6" fill="#2020ff"/>
<rect x="341.1" y="378.95" width="1.6" height="1.6" fill="#2020ff"/>
<rect x="345.01" y="377.76" width="1.6" height="1.6" fill="#2020ff"/>
<rect x="348.93" y="377.36" width="1.6" height="1.6" fill="#2020ff"/>
<rect x="352.84" y="376.51" width="1.6" height="1.6" fill="#2020ff"/>
<rect x="356.76" y="375.56" width="1.6" height="1.6" fill="#2020ff"/>
<rect x="360.67" y="374.17" width="1.6" height="1.6" fill="#2020ff"/>
<rect x="364.58" y="373.97" width="1.6" height="1.6" fill="#2020ff"/>
<rect x="368.5" y="373.27" width="1.6" height="1.6" fill="#2020ff"/>
<rect x="372.41" y="372.47" width="1.6" height="1.6" fill="#2020ff"/>
<rect x="376.33" y="371.69" width="1.6" height="1.6" fill="#2020ff"/>
<rect x="380.24" y="371.13" width="1.6" height="1.6" fill="#2020ff"/>
<rect x="384.15" y="370.57" width="1.6" height="1.6" fill="#2020ff"/>
<rect x="388.07" y="369.85" width="1.6" height="1.6" fill="#2020ff"/>
<rect x="391.98" y="368.64" width="1.6" height="1.6" fill="#2020ff"/>
<rect x="395.9" y="368.59" width="1.6" height="1.6" fill="#2020ff"/>
<rect x="399.81" y="368.32" width="1.6" height="1.6" fill="#2020ff"/>
<rect x="403.72" y="367.33" width="1.6" height="1.6" fill="#2020ff"/>
<rect x="407.64" y="367.1" width="1.6" height="1.6" fill="#2020ff"/>
<rect x="411.55" y="366.07" width="1.6" height="1.6" fill="#2020ff"/>
<rect x="415.47" y="365.89" width="1.6" height="1.6" fill="#2020ff"/>
<rect x="419.38" y="365.7" width="1.6" height="1.6" fill="#2020ff"/>
<rect x="423.29" y="365.44" width="1.6" height="1.6" fill="#2020ff"/>
<rect x="427.21" y="364.45" width="1.6" height="1.6" fill="#2020ff"/>
<rect x="431.12" y="364.33" width="1.6" height="1.6" fill="#2020ff"/>
<rect x="435.04" y="363.24" width="1.6" height="1.6" fill="#2020ff"/>
<rect x="438.95" y="363.73" width="1.6" height="1.6" fill="#2020ff"/>
<rect x="442.86" y="363.26" width="1.6" height="1.6" fill="#2020ff"/>
<rect x="446.78" y="362.21" width="1.6" height="1.6" fill="#2020ff"/>
<rect x="450.69" y="362.61" width="1.6" height="1.6" fill="#2020ff"/>
<rect x="454.61" y="361.8" width="1.6" height="1.6" fill="#2020ff"/>
<rect x="458.52" y="362.01" width="1.6" height="1.6" fill="#2020ff"/>
<rect x="462.43" y="361.37" width="1.6" height="1.6" fill="#2020ff"/>
<rect x="466.35" y="361.41" width="1.6" height="1.6" fill="#2020ff"/>
<rect x="470.26" y="360.53" width="1.6" height="1.6" fill="#2020ff"/>
<rect x="474.18" y="359.75" width="1.6" height="1.6" fill="#2020ff"/>
<rect x="478.09" y="359.38" width="1.6" height="1.6" fill="#2020ff"/>
<rect x="482" y="359.26" width="1.6" height="1.6" fill="#2020ff"/>
<rect x="485.92" y="359.32" width="1.6" height="1.6" fill="#2020ff"/>
<rect x="294.13" y="397.19" width="1.6" height="1.6" fill="#2020ff"/>
<rect x="298.05" y="395.67" width="1.6" height="1.6" fill="#2020ff"/>
<rect x="301.96" y="394.29" width="1.6" height="1.6" fill="#2020ff"/>
<rect x="305.87" y="392.99" width="1.6" height="1.6" fill="#2020ff"/>
<rect x="309.79" y="391.86" width="1.6" height="1.6" fill="#2020ff"/>
<rect x="313.7" y="390.82" width="1.6" height="1.6" fill="#2020ff"/>
<rect x="317.62" y="389.75" width="1.6" height="1.6" fill="#2020ff"/>
<rect x="321.53" y="388.85" width="1.6" height="1.6" fill="#2020ff"/>
<rect x="325.44" y="387.79" width="1.6" height="1.6" fill="#2020ff"/>
<rect x="329.36" y="386.96" width="1.6" height="1.6" fill="#2020ff"/>
<rect x="333.27" y="386.36" width="1.6" height="1.6" fill="#2020ff"/>
<rect x="337.19" y="385.25" width="1.6" height="1.6" fill="#2020ff"/>
<rect x="341.1" y="384.56" width="1.6" height="1.6" fill="#2020ff"/>
<rect x="345.01" y="384.09" width="1.6" height="1.6" fill="#2020ff"/>
<rect x="348.93" y="383.25" width="1.6" height="1.6" fill="#2020ff"/>
<rect x="352.84" y="382.71" width="1.6" height="1.6" fill="#2020ff"/>
<rect x="356.76" y="382.41" width="1.6" height="1.6" fill="#2020ff"/>
<rect x="360.67" y="381.48" width="1.6" height="1.6" fill="#2020ff"/>
<rect x="364.58" y="381.21" width="1.6" height="1.6" fill="#2020ff"/>
<rect x="368.5" y="380.67" width="1.6" height="1.6" fill="#2020ff"/>
<rect x="372.41" y="380.16" width="1.6" height="1.6" fill="#2020ff"/>
<rect x="376.33" y="379.82" width="1.6" height="1.6" fill="#2020ff"/>
<rect x="380.24" y="379.12" width="1.6" height="1.6" fill="#2020ff"/>
<rect x="384.15" y="378.92" width="1.6" height="1.6" fill="#2020ff"/>
<rect x="388.07" y="378.64" width="1.6" height="1.6" fill="#2020ff"/>
<rect x="391.98" y="377.99" width="1.6" height="1.6" fill="#2020ff"/>
<rect x="395.9" y="377.79" width="1.6" height="1.6" fill="#2020ff"/>
<rect x="399.81" y="377.1" width="1.6" height="1.6" fill="#2020ff"/>
<rect x="403.72" y="377.35" width="1.6" height="1.6" fill="#2020ff"/>
<rect x="407.64" y="376.77" width="1.6" height="1.6" fill="#2020ff"/>
<rect x="411.55" y="376.5" width="1.6" height="1.6" fill="#2020ff"/>
<rect x="415.47" y="376.28" width="1.6" height="1.6" fill="#2020ff"/>
<rect x="419.38" y="376.01" width="1.6" height="1.6" fill="#2020ff"/>
<rect x="423.29" y="375.75" width="1.6" height="1.6" fill="#2020ff"/>
<rect x="427.21" y="375.3" width="1.6" height="1.6" fill="#2020ff"/>
<rect x="431.12" y="375.07" width="1.6" height="1.6" fill="#2020ff"/>
<rect x="435.04" y="374.94" width="1.6" height="1.6" fill="#2020ff"/>
<rect x="438.95" y="374.54" width="1.6" height="1.6" fill="#2020ff"/>
<rect x="442.86" y="373.99" width="1.6" height="1.6" fill="#2020ff"/>
<rect x="446.78" y="374.4" width="1.6" height="1.6" fill="#2020ff"/>
<rect x="450.69" y="374.02" width="1.6" height="1.6" fill="#2020ff"/>
<rect x="454.61" y="373.51" width="1.6" height="1.6" fill="#2020ff"/>
<rect x="294.13" y="395.16" width="1.6" height="1.6" fill="#ff2020"/>
<rect x="298.05" y="390.96" width="1.6" height="1.6" fill="#ff2020"/>
<rect x="301.96" y="386.72" width="1.6" height="1.6" fill="#ff2020"/>
<rect x="305.87" y="382.81" width="1.6" height="1.6" fill="#ff2020"/>
<rect x="309.79" y="378.61" width="1.6" height="1.6" fill="#ff2020"/>
<rect x="313.7" y="374.56" width="1.6" height="1.6" fill="#ff2020"/>
<rect x="317.62" y="370.02" width="1.6" height="1.6" fill="#ff2020"/>
<rect x="321.53" y="365.98" width="1.6" height="1.6" fill="#ff2020"/>
<rect x="325.44" y="361.9" width="1.6" height="1.6" fill="#ff2020"/>
<rect x="329.36" y="357.4" width="1.6" height="1.6" fill="#ff2020"/>
<rect x="333.27" y="353.34" width="1.6" height="1.6" fill="#ff2020"/>
<rect x="337.19" y="349.74" width="1.6" height="1.6" fill="#ff2020"/>
<rect x="341.1" y="345.18" width="1.6" height="1.6" fill="#ff2020"/>
<rect x="345.01" y="341.43" width="1.6" height="1.6" fill="#ff2020"/>
<rect x="348.93" y="336.48" width="1.6" height="1.6" fill="#ff2020"/>
<rect x="352.84" y="333.03" width="1.6" height="1.6" fill="#ff2020"/>
<rect x="356.76" y="328.5" width="1.6" height="1.6" fill="#ff2020"/>
<rect x="360.67" y="325" width="1.6" height="1.6" fill="#ff2020"/>
<rect x="364.58" y="319.74" width="1.6" height="1.6" fill="#ff2020"/>
<rect x="368.5" y="316.74" width="1.6" height="1.6" fill="#ff2020"/>
<rect x="372.41" y="311.83" width="1.6" height="1.6" fill="#ff2020"/>
<rect x="376.33" y="307.6" width="1.6" height="1.6" fill="#ff2020"/>
<rect x="380.24" y="304.2" width="1.6" height="1.6" fill="#ff2020"/>
<rect x="384.15" y="299.54" width="1.6" height="1.6" fill="#ff2020"/>
<rect x="388.07" y="295.48" width="1.6" height="1.6" fill="#ff2020"/>
<rect x="294.13" y="396.27" width="1.6" height="1.6" fill="#ff2020"/>
<line x1="294.93" y1="395.47" x2="294.93" y2="398.67" stroke="#ff2020" stroke-width="0.5" />
<rect x="298.83" y="393.05" width="1.6" height="1.6" fill="#ff2020"/>
<line x1="299.63" y1="392.25" x2="299.63" y2="395.45" stroke="#ff2020" stroke-width="0.5" />
<rect x="303.52" y="389.27" width="1.6" height="1.6" fill="#ff2020"/>
<line x1="304.32" y1="388.47" x2="304.32" y2="391.67" stroke="#ff2020" stroke-width="0.5" />
<rect x="308.22" y="385.93" width="1.6" height="1.6" fill="#ff2020"/>
<line x1="309.02" y1="385.13" x2="309.02" y2="388.33" stroke="#ff2020" stroke-width="0.5" />
<rect x="312.92" y="382.12" width="1.6" height="1.6" fill="#ff2020"/>
<line x1="313.72" y1="381.32" x2="313.72" y2="384.52" stroke="#ff2020" stroke-width="0.5" />
<rect x="317.62" y="378.4" width="1.6" height="1.6" fill="#ff2020"/>
<line x1="318.42" y1="377.6" x2="318.42" y2="380.8" stroke="#ff2020" stroke-width="0.5" />
<rect x="322.31" y="374.53" width="1.6" height="1.6" fill="#ff2020"/>
<line x1="323.11" y1="373.73" x2="323.11" y2="376.93" stroke="#ff2020" stroke-width="0.5" />
<rect x="327.01" y="369.74" width="1.6" height="1.6" fill="#ff2020"/>
<line x1="327.81" y1="368.94" x2="327.81" y2="372.14" stroke="#ff2020" stroke-width="0.5" />
<rect x="331.71" y="366.64" width="1.6" height="1.6" fill="#ff2020"/>
<line x1="332.51" y1="365.84" x2="332.51" y2="369.04" stroke="#ff2020" stroke-width="0.5" />
<rect x="336.4" y="362.42" width="1.6" height="1.6" fill="#ff2020"/>
<line x1="337.2" y1="361.62" x2="337.2" y2="364.82" stroke="#ff2020" stroke-width="0.5" />
<rect x="341.1" y="356.68" width="1.6" height="1.6" fill="#ff2020"/>
<line x1="341.9" y1="355.88" x2="341.9" y2="359.08" stroke="#ff2020" stroke-width="0.5" />
<rect x="345.8" y="352.97" width="1.6" height="1.6" fill="#ff2020"/>
<line x1="346.6" y1="352.17" x2="346.6" y2="355.37" stroke="#ff2020" stroke-width="0.5" />
<rect x="350.49" y="347.71" width="1.6" height="1.6" fill="#ff2020"/>
<line x1="351.29" y1="346.91" x2="351.29" y2="350.11" stroke="#ff2020" stroke-width="0.5" />
<rect x="355.19" y="343.35" width="1.6" height="1.6" fill="#ff2020"/>
<line x1="355.99" y1="342.55" x2="355.99" y2="345.75" stroke="#ff2020" stroke-width="0.5" />
<rect x="359.89" y="339.65" width="1.6" height="1.6" fill="#ff2020"/>
<line x1="360.69" y1="338.85" x2="360.69" y2="342.05" stroke="#ff2020" stroke-width="0.5" />
<rect x="364.58" y="334.34" width="1.6" height="1.6" fill="#ff2020"/>
<line x1="365.38" y1="333.54" x2="365.38" y2="336.74" stroke="#ff2020" stroke-width="0.5" />
<rect x="369.28" y="329.01" width="1.6" height="1.6" fill="#ff2020"/>
<line x1="370.08" y1="328.21" x2="370.08" y2="331.41" stroke="#ff2020" stroke-width="0.5" />
<rect x="373.98" y="322.72" width="1.6" height="1.6" fill="#ff2020"/>
<line x1="374.78" y1="321.92" x2="374.78" y2="325.12" stroke="#ff2020" stroke-width="0.5" />
<rect x="378.67" y="316.84" width="1.6" height="1.6" fill="#ff2020"/>
<line x1="379.47" y1="316.04" x2="379.47" y2="319.24" stroke="#ff2020" stroke-width="0.5" />
<rect x="383.37" y="313.38" width="1.6" height="1.6" fill="#ff2020"/>
<line x1="384.17" y1="312.58" x2="384.17" y2="315.78" stroke="#ff2020" stroke-width="0.5" />
<rect x="388.07" y="308.46" width="1.6" height="1.6" fill="#ff2020"/>
<line x1="388.87" y1="307.66" x2="388.87" y2="310.86" stroke="#ff2020" stroke-width="0.5" />
<rect x="392.76" y="306.22" width="1.6" height="1.6" fill="#ff2020"/>
<line x1="393.56" y1="305.42" x2="393.56" y2="308.62" stroke="#ff2020" stroke-width="0.5" />
<rect x="397.46" y="299.51" width="1.6" height="1.6" fill="#ff2020"/>
<line x1="398.26" y1="298.71" x2="398.26" y2="301.91" stroke="#ff2020" stroke-width="0.5" />
<rect x="402.16" y="297.08" width="1.6" height="1.6" fill="#ff2020"/>
<line x1="402.96" y1="296.28" x2="402.96" y2="299.48" stroke="#ff2020" stroke-width="0.5" />
<rect x="406.85" y="292.06" width="1.6" height="1.6" fill="#ff2020"/>
<line x1="407.65" y1="291.26" x2="407.65" y2="294.46" stroke="#ff2020" stroke-width="0.5" />
<rect x="411.55" y="287.31" width="1.6" height="1.6" fill="#ff2020"/>
<line x1="412.35" y1="286.51" x2="412.35" y2="289.71" stroke="#ff2020" stroke-width="0.5" />
<rect x="416.25" y="281.71" width="1.6" height="1.6" fill="#ff2020"/>
<line x1="417.05" y1="280.91" x2="417.05" y2="284.11" stroke="#ff2020" stroke-width="0.5" />
<rect x="420.94" y="280.4" width="1.6" height="1.6" fill="#ff2020"/>
<line x1="421.74" y1="279.6" x2="421.74" y2="282.8" stroke="#ff2020" stroke-width="0.5" />
<rect x="425.64" y="276.49" width="1.6" height="1.6" fill="#ff2020"/>
<line x1="426.44" y1="275.69" x2="426.44" y2="278.89" stroke="#ff2020" stroke-width="0.5" />
<rect x="430.34" y="268.69" width="1.6" height="1.6" fill="#ff2020"/>
<line x1="431.14" y1="267.89" x2="431.14" y2="271.09" stroke="#ff2020" stroke-width="0.5" />
<rect x="435.04" y="265.63" width="1.6" height="1.6" fill="#ff2020"/>
<line x1="435.84" y1="264.83" x2="435.84" y2="268.03" stroke="#ff2020" stroke-width="0.5" />
<rect x="439.73" y="262.03" width="1.6" height="1.6" fill="#ff2020"/>
<line x1="440.53" y1="261.23" x2="440.53" y2="264.43" stroke="#ff2020" stroke-width="0.5" />
<rect x="444.43" y="256.89" width="1.6" height="1.6" fill="#ff2020"/>
<line x1="445.23" y1="256.09" x2="445.23" y2="259.29" stroke="#ff2020" stroke-width="0.5" />
<rect x="449.13" y="254.85" width="1.6" height="1.6" fill="#ff2020"/>
<line x1="449.93" y1="254.05" x2="449.93" y2="257.25" stroke="#ff2020" stroke-width="0.5" />
<rect x="453.82" y="252.18" width="1.6" height="1.6" fill="#ff2020"/>
<line x1="454.62" y1="251.38" x2="454.62" y2="254.58" stroke="#ff2020" stroke-width="0.5" />
<rect x="458.52" y="243.19" width="1.6" height="1.6" fill="#ff2020"/>
<line x1="459.32" y1="242.39" x2="459.32" y2="245.59" stroke="#ff2020" stroke-width="0.5" />
<rect x="463.22" y="243.65" width="1.6" height="1.6" fill="#ff2020"/>
<line x1="464.02" y1="242.85" x2="464.02" y2="246.05" stroke="#ff2020" stroke-width="0.5" />
<rect x="467.91" y="237.86" width="1.6" height="1.6" fill="#ff2020"/>
<line x1="468.71" y1="237.06" x2="468.71" y2="240.26" stroke="#ff2020" stroke-width="0.5" />
<rect x="472.61" y="231.15" width="1.6" height="1.6" fill="#ff2020"/>
<line x1="473.41" y1="230.35" x2="473.41" y2="233.55" stroke="#ff2020" stroke-width="0.5" />
<rect x="477.31" y="228.85" width="1.6" height="1.6" fill="#ff2020"/>
<line x1="478.11" y1="228.05" x2="478.11" y2="231.25" stroke="#ff2020" stroke-width="0.5" />
<rect x="482" y="224.65" width="1.6" height="1.6" fill="#ff2020"/>
<line x1="482.8" y1="223.85" x2="482.8" y2="227.05" stroke="#ff2020" stroke-width="0.5" />
<rect x="486.7" y="222.85" width="1.6" height="1.6" fill="#ff2020"/>
<line x1="487.5" y1="222.05" x2="487.5" y2="225.25" stroke="#ff2020" stroke-width="0.5" />
<rect x="294.13" y="396.35" width="1.6" height="1.6" fill="#ff2020"/>
<line x1="294.93" y1="395.55" x2="294.93" y2="398.75" stroke="#ff2020" stroke-width="0.5" />
<rect x="298.83" y="393.05" width="1.6" height="1.6" fill="#ff2020"/>
<line x1="299.63" y1="392.25" x2="299.63" y2="395.45" stroke="#ff2020" stroke-width="0.5" />
<rect x="303.52" y="389.57" width="1.6" height="1.6" fill="#ff2020"/>
<line x1="304.32" y1="388.77" x2="304.32" y2="391.97" stroke="#ff2020" stroke-width="0.5" />
<rect x="308.22" y="386" width="1.6" height="1.6" fill="#ff2020"/>
<line x1="309.02" y1="385.2" x2="309.02" y2="388.4" stroke="#ff2020" stroke-width="0.5" />
<rect x="312.92" y="382.42" width="1.6" height="1.6" fill="#ff2020"/>
<line x1="313.72" y1="381.62" x2="313.72" y2="384.82" stroke="#ff2020" stroke-width="0.5" />
<rect x="317.62" y="379.02" width="1.6" height="1.6" fill="#ff2020"/>
<line x1="318.42" y1="378.22" x2="318.42" y2="381.42" stroke="#ff2020" stroke-width="0.5" />
<rect x="322.31" y="375.35" width="1.6" height="1.6" fill="#ff2020"/>
<line x1="323.11" y1="374.55" x2="323.11" y2="377.75" stroke="#ff2020" stroke-width="0.5" />
<rect x="327.01" y="371.07" width="1.6" height="1.6" fill="#ff2020"/>
<line x1="327.81" y1="370.27" x2="327.81" y2="373.47" stroke="#ff2020" stroke-width="0.5" />
<rect x="331.71" y="366.9" width="1.6" height="1.6" fill="#ff2020"/>
<line x1="332.51" y1="366.1" x2="332.51" y2="369.3" stroke="#ff2020" stroke-width="0.5" />
<rect x="336.4" y="363.43" width="1.6" height="1.6" fill="#ff2020"/>
<line x1="337.2" y1="362.63" x2="337.2" y2="365.83" stroke="#ff2020" stroke-width="0.5" />
<rect x="341.1" y="359.68" width="1.6" height="1.6" fill="#ff2020"/>
<line x1="341.9" y1="358.88" x2="341.9" y2="362.08" stroke="#ff2020" stroke-width="0.5" />
<rect x="345.8" y="355.44" width="1.6" height="1.6" fill="#ff2020"/>
<line x1="346.6" y1="354.64" x2="346.6" y2="357.84" stroke="#ff2020" stroke-width="0.5" />
<rect x="350.49" y="349.53" width="1.6" height="1.6" fill="#ff2020"/>
<line x1="351.29" y1="348.73" x2="351.29" y2="351.93" stroke="#ff2020" stroke-width="0.5" />
<rect x="355.19" y="345.84" width="1.6" height="1.6" fill="#ff2020"/>
<line x1="355.99" y1="345.04" x2="355.99" y2="348.24" stroke="#ff2020" stroke-width="0.5" />
<rect x="359.89" y="341.36" width="1.6" height="1.6" fill="#ff2020"/>
<line x1="360.69" y1="340.56" x2="360.69" y2="343.76" stroke="#ff2020" stroke-width="0.5" />
<rect x="364.58" y="336.51" width="1.6" height="1.6" fill="#ff2020"/>
<line x1="365.38" y1="335.71" x2="365.38" y2="338.91" stroke="#ff2020" stroke-width="0.5" />
<rect x="369.28" y="330.94" width="1.6" height="1.6" fill="#ff2020"/>
<line x1="370.08" y1="330.14" x2="370.08" y2="333.34" stroke="#ff2020" stroke-width="0.5" />
<rect x="373.98" y="328.07" width="1.6" height="1.6" fill="#ff2020"/>
<line x1="374.78" y1="327.27" x2="374.78" y2="330.47" stroke="#ff2020" stroke-width="0.5" />
<rect x="378.67" y="322.82" width="1.6" height="1.6" fill="#ff2020"/>
<line x1="379.47" y1="322.02" x2="379.47" y2="325.22" stroke="#ff2020" stroke-width="0.5" />
<rect x="383.37" y="318.95" width="1.6" height="1.6" fill="#ff2020"/>
<line x1="384.17" y1="318.15" x2="384.17" y2="321.35" stroke="#ff2020" stroke-width="0.5" />
<rect x="388.07" y="315.43" width="1.6" height="1.6" fill="#ff2020"/>
<line x1="388.87" y1="314.63" x2="388.87" y2="317.83" stroke="#ff2020" stroke-width="0.5" />
<rect x="392.76" y="309.83" width="1.6" height="1.6" fill="#ff2020"/>
<line x1="393.56" y1="309.03" x2="393.56" y2="312.23" stroke="#ff2020" stroke-width="0.5" />
<rect x="397.46" y="306.66" width="1.6" height="1.6" fill="#ff2020"/>
<line x1="398.26" y1="305.86" x2="398.26" y2="309.06" stroke="#ff2020" stroke-width="0.5" />
<rect x="402.16" y="302.55" width="1.6" height="1.6" fill="#ff2020"/>
<line x1="402.96" y1="301.75" x2="402.96" y2="304.95" stroke="#ff2020" stroke-width="0.5" />
<rect x="406.85" y="296.48" width="1.6" height="1.6" fill="#ff2020"/>
<line x1="407.65" y1="295.68" x2="407.65" y2="298.88" stroke="#ff2020" stroke-width="0.5" />
<rect x="411.55" y="294.68" width="1.6" height="1.6" fill="#ff2020"/>
<line x1="412.35" y1="293.88" x2="412.35" y2="297.08" stroke="#ff2020" stroke-width="0.5" />
<rect x="416.25" y="289.91" width="1.6" height="1.6" fill="#ff2020"/>
<line x1="417.05" y1="289.11" x2="417.05" y2="292.31" stroke="#ff2020" stroke-width="0.5" />
<rect x="420.94" y="287.31" width="1.6" height="1.6" fill="#ff2020"/>
<line x1="421.74" y1="286.51" x2="421.74" y2="289.71" stroke="#ff2020" stroke-width="0.5" />
<rect x="425.64" y="281.83" width="1.6" height="1.6" fill="#ff2020"/>
<line x1="426.44" y1="281.03" x2="426.44" y2="284.23" stroke="#ff2020" stroke-width="0.5" />
<rect x="430.34" y="278.86" width="1.6" height="1.6" fill="#ff2020"/>
<line x1="431.14" y1="278.06" x2="431.14" y2="281.26" stroke="#ff2020" stroke-width="0.5" />
<rect x="435.04" y="275.75" width="1.6" height="1.6" fill="#ff2020"/>
<line x1="435.84" y1="274.95" x2="435.84" y2="278.15" stroke="#ff2020" stroke-width="0.5" />
<rect x="439.73" y="271.71" width="1.6" height="1.6" fill="#ff2020"/>
<line x1="440.53" y1="270.91" x2="440.53" y2="274.11" stroke="#ff2020" stroke-width="0.5" />
<rect x="444.43" y="263.46" width="1.6" height="1.6" fill="#ff2020"/>
<line x1="445.23" y1="262.66" x2="445.23" y2="265.86" stroke="#ff2020" stroke-width="0.5" />
<rect x="449.13" y="263.4" width="1.6" height="1.6" fill="#ff2020"/>
<line x1="449.93" y1="262.6" x2="449.93" y2="265.8" stroke="#ff2020" stroke-width="0.5" />
<rect x="453.82" y="255.21" width="1.6" height="1.6" fill="#ff2020"/>
<line x1="454.62" y1="254.41" x2="454.62" y2="257.61" stroke="#ff2020" stroke-width="0.5" />
<text x="491.6" y="186.6" font-size="8.9" text-anchor="start" fill="#ff1a1a" >ex1</text>
<text x="486.3" y="216.5" font-size="8.9" text-anchor="start" fill="#ff1a1a" >ex2</text>
<text x="488" y="238.1" font-size="8.9" text-anchor="start" fill="#ff1a1a" >ex3</text>
<text x="492" y="323.9" font-size="8.9" text-anchor="start" fill="#1010ff" >ex1</text>
<text x="492" y="361.9" font-size="8.9" text-anchor="start" fill="#1010ff" >ex2</text>
<text x="492" y="374" font-size="8.9" text-anchor="start" fill="#1010ff" >ex3</text>
<text x="436.2" y="344.2" font-size="8.7" text-anchor="start" fill="#1010ff" >ensemble</text>
<text x="430.3" y="289.9" font-size="8.7" text-anchor="start" fill="#ff1a1a" >ensemble (shuff.)</text>
<line x1="314.5" y1="164" x2="314.5" y2="220" stroke="#333" stroke-width="1" />
<line x1="314.5" y1="220" x2="388.5" y2="220" stroke="#333" stroke-width="1" />
<line x1="314.5" y1="192.3" x2="388.5" y2="192.3" stroke="#222" stroke-width="0.9" />
<line x1="314.5" y1="206.2" x2="316.5" y2="206.2" stroke="#333" stroke-width="1" />
<line x1="314.5" y1="220" x2="344.8" y2="164" stroke="#ff2020" stroke-width="1.0" />
<polyline points="314.5,220 315.24,218.73 315.98,217.57 316.72,216.51 317.46,215.53 318.2,214.63 318.94,213.8 319.68,213.03 320.42,212.31 321.16,211.64 321.9,211.01 322.64,210.42 323.38,209.87 324.12,209.35 324.86,208.86 325.6,208.4 326.34,207.96 327.08,207.55 327.82,207.15 328.56,206.78 329.3,206.43 330.04,206.09 330.78,205.77 331.52,205.46 332.26,205.16 333,204.88 333.74,204.61 334.48,204.36 335.22,204.11 335.96,203.87 336.7,203.65 337.44,203.43 338.18,203.22 338.92,203.01 339.66,202.82 340.4,202.63 341.14,202.45 341.88,202.27 342.62,202.1 343.36,201.94 344.1,201.78 344.84,201.63 345.58,201.48 346.32,201.33 347.06,201.19 347.8,201.06 348.54,200.93 349.28,200.8 350.02,200.68 350.76,200.56 351.5,200.44 352.24,200.33 352.98,200.22 353.72,200.11 354.46,200.01 355.2,199.9 355.94,199.8 356.68,199.71 357.42,199.61 358.16,199.52 358.9,199.43 359.64,199.35 360.38,199.26 361.12,199.18 361.86,199.1 362.6,199.02 363.34,198.94 364.08,198.86 364.82,198.79 365.56,198.72 366.3,198.65 367.04,198.58 367.78,198.51 368.52,198.44 369.26,198.38 370,198.32 370.74,198.25 371.48,198.19 372.22,198.13 372.96,198.08 373.7,198.02 374.44,197.96 375.18,197.91 375.92,197.85 376.66,197.8 377.4,197.75 378.14,197.7 378.88,197.65 379.62,197.6 380.36,197.55 381.1,197.5 381.84,197.46 382.58,197.41 383.32,197.37 384.06,197.32 384.8,197.28 385.54,197.23 386.28,197.19 387.02,197.15 387.76,197.11 388.5,197.07" fill="none" stroke="#2020ff" stroke-width="1.0" stroke-linejoin="round" />
<line x1="314.5" y1="220" x2="314.5" y2="218.2" stroke="#333" stroke-width="1" />
<text x="314.5" y="230.9" font-size="8.3" text-anchor="middle" fill="#000" >0</text>
<line x1="329.3" y1="220" x2="329.3" y2="218.2" stroke="#333" stroke-width="1" />
<text x="329.3" y="230.9" font-size="8.3" text-anchor="middle"><tspan font-style="italic">N</tspan></text>
<line x1="344.1" y1="220" x2="344.1" y2="218.2" stroke="#333" stroke-width="1" />
<text x="344.1" y="230.9" font-size="8.3" text-anchor="middle">2<tspan font-style="italic">N</tspan></text>
<line x1="358.9" y1="220" x2="358.9" y2="218.2" stroke="#333" stroke-width="1" />
<text x="358.9" y="230.9" font-size="8.3" text-anchor="middle">3<tspan font-style="italic">N</tspan></text>
<line x1="373.7" y1="220" x2="373.7" y2="218.2" stroke="#333" stroke-width="1" />
<text x="373.7" y="230.9" font-size="8.3" text-anchor="middle">4<tspan font-style="italic">N</tspan></text>
<line x1="388.5" y1="220" x2="388.5" y2="218.2" stroke="#333" stroke-width="1" />
<text x="388.5" y="230.9" font-size="8.3" text-anchor="middle">5<tspan font-style="italic">N</tspan></text>
<text x="352.8" y="239.2" font-size="7.8" text-anchor="middle" fill="#000" >number of cells</text>
<text transform="translate(309.3,193.6) rotate(-90)" x="0" y="2.66" font-size="7.6" text-anchor="middle" fill="#000" >IMSE</text>
<text x="342.6" y="181.0" font-size="8" fill="#ff1a1a" font-style="italic">I<tspan font-size="5" dy="1.3">0</tspan><tspan dy="-1.3"> n</tspan></text>
<text x="367.8" y="190.0" font-size="7.8">asymptote <tspan font-style="italic">I<tspan font-size="5" dy="1.3">0</tspan><tspan dy="-1.3"> N</tspan></tspan></text>
<g fill="#1010ff" font-size="8" font-style="italic"><text x="390.5" y="200.2">I<tspan font-size="5" dy="1.3">0</tspan><tspan dy="-1.3"> n</tspan></text><line x1="384.2" y1="202.5" x2="406.6" y2="202.5" stroke="#1010ff" stroke-width="0.7"/><text x="384.4" y="209.9">(1+ n )</text><line x1="397" y1="211.3" x2="403" y2="211.3" stroke="#1010ff" stroke-width="0.7"/><text x="397.2" y="218.6">N</text></g>
<text x="518.6" y="161.2" font-size="16" font-weight="bold">g</text>
<line x1="556.3" y1="255.9" x2="558.8" y2="255.9" stroke="#333" stroke-width="1" />
<text x="552.3" y="259.88" font-size="10.0" text-anchor="end" fill="#000" >0</text>
<line x1="556.3" y1="226.03" x2="558.8" y2="226.03" stroke="#333" stroke-width="1" />
<text x="552.3" y="230.02" font-size="10.0" text-anchor="end" fill="#000" >0.5</text>
<line x1="556.3" y1="196.17" x2="558.8" y2="196.17" stroke="#333" stroke-width="1" />
<text x="552.3" y="200.15" font-size="10.0" text-anchor="end" fill="#000" >1.0</text>
<line x1="556.3" y1="166.31" x2="558.8" y2="166.31" stroke="#333" stroke-width="1" />
<text x="552.3" y="170.29" font-size="10.0" text-anchor="end" fill="#000" >1.5</text>
<line x1="556.3" y1="255.9" x2="556.3" y2="253.4" stroke="#333" stroke-width="1" />
<text x="556.3" y="268.4" font-size="10.0" text-anchor="middle" fill="#000" >0</text>
<line x1="580.42" y1="255.9" x2="580.42" y2="253.4" stroke="#333" stroke-width="1" />
<text x="580.42" y="268.4" font-size="10.0" text-anchor="middle" fill="#000" >100</text>
<line x1="604.54" y1="255.9" x2="604.54" y2="253.4" stroke="#333" stroke-width="1" />
<text x="604.54" y="268.4" font-size="10.0" text-anchor="middle" fill="#000" >200</text>
<line x1="628.66" y1="255.9" x2="628.66" y2="253.4" stroke="#333" stroke-width="1" />
<text x="628.66" y="268.4" font-size="10.0" text-anchor="middle" fill="#000" >300</text>
<line x1="652.78" y1="255.9" x2="652.78" y2="253.4" stroke="#333" stroke-width="1" />
<text x="652.78" y="268.4" font-size="10.0" text-anchor="middle" fill="#000" >400</text>
<line x1="676.9" y1="255.9" x2="676.9" y2="253.4" stroke="#333" stroke-width="1" />
<text x="676.9" y="268.4" font-size="10.0" text-anchor="middle" fill="#000" >500</text>
<line x1="556.3" y1="166.31" x2="556.3" y2="255.9" stroke="#aaa" stroke-width="1" />
<line x1="556.3" y1="255.9" x2="676.9" y2="255.9" stroke="#aaa" stroke-width="1" />
<text transform="translate(525.9,210.8) rotate(-90)" x="0" y="3.5" font-size="9.6" text-anchor="middle">1/MSE (cm<tspan font-size="6.6" dx="1.6" dy="-4.3">-2</tspan><tspan dx="0.8" dy="4.3">)</tspan></text>
<text x="613.8" y="280.4" font-size="9.4" text-anchor="middle" fill="#000" style="white-space:pre">number of  cells</text>
<polygon points="556.3,255.12 559.92,255.12 563.54,254.71 569.08,253.21 576.32,250.4 583.31,247.57 590.55,244.67 598.99,241.48 604.78,240.02 611.78,237.22 617.56,233.5 621.91,231.16 626.49,227.87 634.93,224.71 641.2,219.24 647.71,211.07 653.02,201.72 657.85,192.8 664.84,197.46 671.11,187.44 676.9,178.07 676.9,197.54 671.11,203.71 664.84,210.77 657.85,203.36 653.02,210.69 647.71,218.54 641.2,225.19 634.93,229.51 626.49,231.48 621.91,234.29 617.56,236.25 611.78,239.58 604.78,242.04 598.99,243.32 590.55,246.34 583.31,249.17 576.32,251.96 569.08,254.77 563.54,255.9 559.92,255.9 556.3,255.9" fill="#fcc4c4" />
<polyline points="556.3,255.12 559.92,255.12 563.54,254.71 569.08,253.21 576.32,250.4 583.31,247.57 590.55,244.67 598.99,241.48 604.78,240.02 611.78,237.22 617.56,233.5 621.91,231.16 626.49,227.87 634.93,224.71 641.2,219.24 647.71,211.07 653.02,201.72 657.85,192.8 664.84,197.46 671.11,187.44 676.9,178.07" fill="none" stroke="#f77" stroke-width="0.6" stroke-linejoin="round" />
<polyline points="556.3,255.9 559.92,255.9 563.54,255.9 569.08,254.77 576.32,251.96 583.31,249.17 590.55,246.34 598.99,243.32 604.78,242.04 611.78,239.58 617.56,236.25 621.91,234.29 626.49,231.48 634.93,229.51 641.2,225.19 647.71,218.54 653.02,210.69 657.85,203.36 664.84,210.77 671.11,203.71 676.9,197.54" fill="none" stroke="#f77" stroke-width="0.6" stroke-linejoin="round" />
<polyline points="556.3,255.9 559.92,255.9 563.54,255.48 569.08,253.99 576.32,251.18 583.31,248.37 590.55,245.51 598.99,242.4 604.78,241.03 611.78,238.4 617.56,234.88 621.91,232.72 626.49,229.68 634.93,227.11 641.2,222.21 647.71,214.81 653.02,206.2 657.85,198.08 664.84,204.11 671.11,195.57 676.9,187.81" fill="none" stroke="#ff2020" stroke-width="0.9" stroke-linejoin="round" />
<polygon points="556.3,255.42 561.12,255.4 569.08,254.64 580.66,253.39 590.55,252.62 598.99,252.22 606.23,250.46 611.78,250.73 617.56,251.53 625.04,250.06 630.59,249.08 641.2,247.54 652.06,246.82 662.67,247.43 671.11,246.13 676.9,243.95 676.9,246.1 671.11,248.23 662.67,249.44 652.06,248.73 641.2,249.33 630.59,250.77 625.04,251.7 617.56,253.1 611.78,252.23 606.23,251.91 598.99,253.6 590.55,253.92 580.66,254.59 569.08,255.72 561.12,255.9 556.3,255.9" fill="#b0b0fb" />
<polyline points="556.3,255.42 561.12,255.4 569.08,254.64 580.66,253.39 590.55,252.62 598.99,252.22 606.23,250.46 611.78,250.73 617.56,251.53 625.04,250.06 630.59,249.08 641.2,247.54 652.06,246.82 662.67,247.43 671.11,246.13 676.9,243.95" fill="none" stroke="#8080fb" stroke-width="0.6" stroke-linejoin="round" />
<polyline points="556.3,255.9 561.12,255.9 569.08,255.72 580.66,254.59 590.55,253.92 598.99,253.6 606.23,251.91 611.78,252.23 617.56,253.1 625.04,251.7 630.59,250.77 641.2,249.33 652.06,248.73 662.67,249.44 671.11,248.23 676.9,246.1" fill="none" stroke="#8080fb" stroke-width="0.6" stroke-linejoin="round" />
<polyline points="556.3,255.9 561.12,255.9 569.08,255.18 580.66,253.99 590.55,253.27 598.99,252.91 606.23,251.18 611.78,251.48 617.56,252.32 625.04,250.88 630.59,249.93 641.2,248.43 652.06,247.78 662.67,248.43 671.11,247.18 676.9,245.03" fill="none" stroke="#2020ff" stroke-width="1.0" stroke-linejoin="round" />
<text x="569.5" y="222.4" font-size="8.75" text-anchor="start" fill="#ff1a1a" >ensemble (shuff.)</text>
<text x="640.7" y="241.2" font-size="8.7" text-anchor="start" fill="#1010ff" >ensemble</text>
<text x="575" y="167.3" font-size="8.8" text-anchor="start" fill="#000" >near end of the track</text>
<rect x="577.2" y="171.6" width="3.81" height="5.5" fill="#fff" stroke="#888" stroke-width="0.6"/>
<rect x="581.01" y="171.6" width="3.81" height="5.5" fill="#7a7a7a" stroke="#888" stroke-width="0.6"/>
<rect x="584.82" y="171.6" width="3.81" height="5.5" fill="#fff" stroke="#888" stroke-width="0.6"/>
<rect x="588.63" y="171.6" width="3.81" height="5.5" fill="#fff" stroke="#888" stroke-width="0.6"/>
<rect x="592.44" y="171.6" width="3.81" height="5.5" fill="#fff" stroke="#888" stroke-width="0.6"/>
<rect x="596.25" y="171.6" width="3.81" height="5.5" fill="#fff" stroke="#888" stroke-width="0.6"/>
<rect x="600.06" y="171.6" width="3.81" height="5.5" fill="#fff" stroke="#888" stroke-width="0.6"/>
<rect x="603.87" y="171.6" width="3.81" height="5.5" fill="#fff" stroke="#888" stroke-width="0.6"/>
<rect x="607.68" y="171.6" width="3.81" height="5.5" fill="#fff" stroke="#888" stroke-width="0.6"/>
<rect x="611.49" y="171.6" width="3.81" height="5.5" fill="#fff" stroke="#888" stroke-width="0.6"/>
<rect x="615.3" y="171.6" width="3.81" height="5.5" fill="#fff" stroke="#888" stroke-width="0.6"/>
<rect x="619.11" y="171.6" width="3.81" height="5.5" fill="#fff" stroke="#888" stroke-width="0.6"/>
<rect x="622.92" y="171.6" width="3.81" height="5.5" fill="#fff" stroke="#888" stroke-width="0.6"/>
<rect x="626.73" y="171.6" width="3.81" height="5.5" fill="#fff" stroke="#888" stroke-width="0.6"/>
<rect x="630.54" y="171.6" width="3.81" height="5.5" fill="#fff" stroke="#888" stroke-width="0.6"/>
<rect x="634.35" y="171.6" width="3.81" height="5.5" fill="#fff" stroke="#888" stroke-width="0.6"/>
<rect x="638.16" y="171.6" width="3.81" height="5.5" fill="#fff" stroke="#888" stroke-width="0.6"/>
<rect x="641.97" y="171.6" width="3.81" height="5.5" fill="#fff" stroke="#888" stroke-width="0.6"/>
<rect x="645.78" y="171.6" width="3.81" height="5.5" fill="#7a7a7a" stroke="#888" stroke-width="0.6"/>
<rect x="649.59" y="171.6" width="3.81" height="5.5" fill="#fff" stroke="#888" stroke-width="0.6"/>
<text x="519.2" y="302.6" font-size="16" font-weight="bold">h</text>
<line x1="556.3" y1="396.9" x2="558.8" y2="396.9" stroke="#333" stroke-width="1" />
<text x="551.9" y="400.88" font-size="10.0" text-anchor="end" fill="#000" >0</text>
<line x1="556.3" y1="374.88" x2="558.8" y2="374.88" stroke="#333" stroke-width="1" />
<text x="551.9" y="378.86" font-size="10.0" text-anchor="end" fill="#000" >0.02</text>
<line x1="556.3" y1="352.86" x2="558.8" y2="352.86" stroke="#333" stroke-width="1" />
<text x="551.9" y="356.84" font-size="10.0" text-anchor="end" fill="#000" >0.04</text>
<line x1="556.3" y1="330.84" x2="558.8" y2="330.84" stroke="#333" stroke-width="1" />
<text x="551.9" y="334.82" font-size="10.0" text-anchor="end" fill="#000" >0.06</text>
<line x1="556.3" y1="308.82" x2="558.8" y2="308.82" stroke="#333" stroke-width="1" />
<text x="551.9" y="312.8" font-size="10.0" text-anchor="end" fill="#000" >0.08</text>
<line x1="556.3" y1="396.9" x2="556.3" y2="394.4" stroke="#333" stroke-width="1" />
<text x="554.8" y="409.6" font-size="10.0" text-anchor="middle" fill="#000" >0</text>
<line x1="580.32" y1="396.9" x2="580.32" y2="394.4" stroke="#333" stroke-width="1" />
<text x="580.32" y="409.6" font-size="10.0" text-anchor="middle" fill="#000" >100</text>
<line x1="604.34" y1="396.9" x2="604.34" y2="394.4" stroke="#333" stroke-width="1" />
<text x="604.34" y="409.6" font-size="10.0" text-anchor="middle" fill="#000" >200</text>
<line x1="628.36" y1="396.9" x2="628.36" y2="394.4" stroke="#333" stroke-width="1" />
<text x="628.36" y="409.6" font-size="10.0" text-anchor="middle" fill="#000" >300</text>
<line x1="652.38" y1="396.9" x2="652.38" y2="394.4" stroke="#333" stroke-width="1" />
<text x="652.38" y="409.6" font-size="10.0" text-anchor="middle" fill="#000" >400</text>
<line x1="676.4" y1="396.9" x2="676.4" y2="394.4" stroke="#333" stroke-width="1" />
<text x="676.4" y="409.6" font-size="10.0" text-anchor="middle" fill="#000" >500</text>
<line x1="556.3" y1="308.82" x2="556.3" y2="396.9" stroke="#aaa" stroke-width="1" />
<line x1="556.3" y1="396.9" x2="676.4" y2="396.9" stroke="#555" stroke-width="1" />
<text transform="translate(526,354.6) rotate(-90)" x="0" y="3.5" font-size="9.6" text-anchor="middle">1/MSE (cm<tspan font-size="6.6" dx="1.6" dy="-4.3">-2</tspan><tspan dx="0.8" dy="4.3">)</tspan></text>
<text x="612.3" y="421.6" font-size="9.4" text-anchor="middle" fill="#000" >number of cells</text>
<polygon points="556.3,395.58 562.06,389.81 569.27,384.8 577.68,380.78 584.88,373.57 591.85,368.78 600.26,363.44 607.46,359.2 614.67,357.17 620.67,351.62 628.36,345.84 633.88,344.91 643.49,338.24 652.86,333.43 658.63,331.52 664.39,332.36 669.91,326.59 676.4,323.68 676.4,328.09 669.91,330.9 664.39,336.59 658.63,335.66 652.86,337.49 643.49,342.16 633.88,348.69 628.36,349.53 620.67,355.2 614.67,360.66 607.46,362.59 600.26,366.72 591.85,371.95 584.88,376.63 577.68,383.73 569.27,387.64 562.06,392.54 556.3,396.9" fill="#fcc4c4" />
<polyline points="556.3,395.58 562.06,389.81 569.27,384.8 577.68,380.78 584.88,373.57 591.85,368.78 600.26,363.44 607.46,359.2 614.67,357.17 620.67,351.62 628.36,345.84 633.88,344.91 643.49,338.24 652.86,333.43 658.63,331.52 664.39,332.36 669.91,326.59 676.4,323.68" fill="none" stroke="#f77" stroke-width="0.6" stroke-linejoin="round" />
<polyline points="556.3,396.9 562.06,392.54 569.27,387.64 577.68,383.73 584.88,376.63 591.85,371.95 600.26,366.72 607.46,362.59 614.67,360.66 620.67,355.2 628.36,349.53 633.88,348.69 643.49,342.16 652.86,337.49 658.63,335.66 664.39,336.59 669.91,330.9 676.4,328.09" fill="none" stroke="#f77" stroke-width="0.6" stroke-linejoin="round" />
<polyline points="556.3,396.9 562.06,391.17 569.27,386.22 577.68,382.26 584.88,375.1 591.85,370.37 600.26,365.08 607.46,360.9 614.67,358.92 620.67,353.41 628.36,347.69 633.88,346.8 643.49,340.2 652.86,335.46 658.63,333.59 664.39,334.47 669.91,328.75 676.4,325.89" fill="none" stroke="#ff2020" stroke-width="0.9" stroke-linejoin="round" />
<polygon points="556.3,396.24 566.39,390.05 577.68,386.38 587.53,383.49 599.06,381.81 606.26,382.01 613.23,380.56 619.95,380.21 626.2,379.42 637.73,378.84 649.02,377.82 660.55,377.79 671.84,376.87 676.4,377.41 676.4,379.39 671.84,378.83 660.55,379.68 649.02,379.65 637.73,380.61 626.2,381.13 619.95,381.88 613.23,382.19 606.26,383.61 599.06,383.37 587.53,384.98 577.68,387.82 566.39,391.42 556.3,396.9" fill="#b0b0fb" />
<polyline points="556.3,396.24 566.39,390.05 577.68,386.38 587.53,383.49 599.06,381.81 606.26,382.01 613.23,380.56 619.95,380.21 626.2,379.42 637.73,378.84 649.02,377.82 660.55,377.79 671.84,376.87 676.4,377.41" fill="none" stroke="#8080fb" stroke-width="0.6" stroke-linejoin="round" />
<polyline points="556.3,396.9 566.39,391.42 577.68,387.82 587.53,384.98 599.06,383.37 606.26,383.61 613.23,382.19 619.95,381.88 626.2,381.13 637.73,380.61 649.02,379.65 660.55,379.68 671.84,378.83 676.4,379.39" fill="none" stroke="#8080fb" stroke-width="0.6" stroke-linejoin="round" />
<polyline points="556.3,396.9 566.39,390.73 577.68,387.1 587.53,384.24 599.06,382.59 606.26,382.81 613.23,381.38 619.95,381.05 626.2,380.27 637.73,379.72 649.02,378.73 660.55,378.73 671.84,377.85 676.4,378.4" fill="none" stroke="#2020ff" stroke-width="1.0" stroke-linejoin="round" />
<text x="567" y="339.2" font-size="8.75" text-anchor="start" fill="#ff1a1a" >ensemble (shuff.)</text>
<text x="637.8" y="374.2" font-size="8.7" text-anchor="start" fill="#1010ff" >ensemble</text>
<text x="579.4" y="310.2" font-size="8.8" text-anchor="start" fill="#000" >center of the track</text>
<rect x="577.2" y="314.2" width="3.81" height="5.5" fill="#fff" stroke="#888" stroke-width="0.6"/>
<rect x="581.01" y="314.2" width="3.81" height="5.5" fill="#fff" stroke="#888" stroke-width="0.6"/>
<rect x="584.82" y="314.2" width="3.81" height="5.5" fill="#fff" stroke="#888" stroke-width="0.6"/>
<rect x="588.63" y="314.2" width="3.81" height="5.5" fill="#fff" stroke="#888" stroke-width="0.6"/>
<rect x="592.44" y="314.2" width="3.81" height="5.5" fill="#fff" stroke="#888" stroke-width="0.6"/>
<rect x="596.25" y="314.2" width="3.81" height="5.5" fill="#fff" stroke="#888" stroke-width="0.6"/>
<rect x="600.06" y="314.2" width="3.81" height="5.5" fill="#fff" stroke="#888" stroke-width="0.6"/>
<rect x="603.87" y="314.2" width="3.81" height="5.5" fill="#fff" stroke="#888" stroke-width="0.6"/>
<rect x="607.68" y="314.2" width="3.81" height="5.5" fill="#fff" stroke="#888" stroke-width="0.6"/>
<rect x="611.49" y="314.2" width="3.81" height="5.5" fill="#7a7a7a" stroke="#888" stroke-width="0.6"/>
<rect x="615.3" y="314.2" width="3.81" height="5.5" fill="#7a7a7a" stroke="#888" stroke-width="0.6"/>
<rect x="619.11" y="314.2" width="3.81" height="5.5" fill="#fff" stroke="#888" stroke-width="0.6"/>
<rect x="622.92" y="314.2" width="3.81" height="5.5" fill="#fff" stroke="#888" stroke-width="0.6"/>
<rect x="626.73" y="314.2" width="3.81" height="5.5" fill="#fff" stroke="#888" stroke-width="0.6"/>
<rect x="630.54" y="314.2" width="3.81" height="5.5" fill="#fff" stroke="#888" stroke-width="0.6"/>
<rect x="634.35" y="314.2" width="3.81" height="5.5" fill="#fff" stroke="#888" stroke-width="0.6"/>
<rect x="638.16" y="314.2" width="3.81" height="5.5" fill="#fff" stroke="#888" stroke-width="0.6"/>
<rect x="641.97" y="314.2" width="3.81" height="5.5" fill="#fff" stroke="#888" stroke-width="0.6"/>
<rect x="645.78" y="314.2" width="3.81" height="5.5" fill="#fff" stroke="#888" stroke-width="0.6"/>
<rect x="649.59" y="314.2" width="3.81" height="5.5" fill="#fff" stroke="#888" stroke-width="0.6"/>
</g>
</svg>
</body></html>
